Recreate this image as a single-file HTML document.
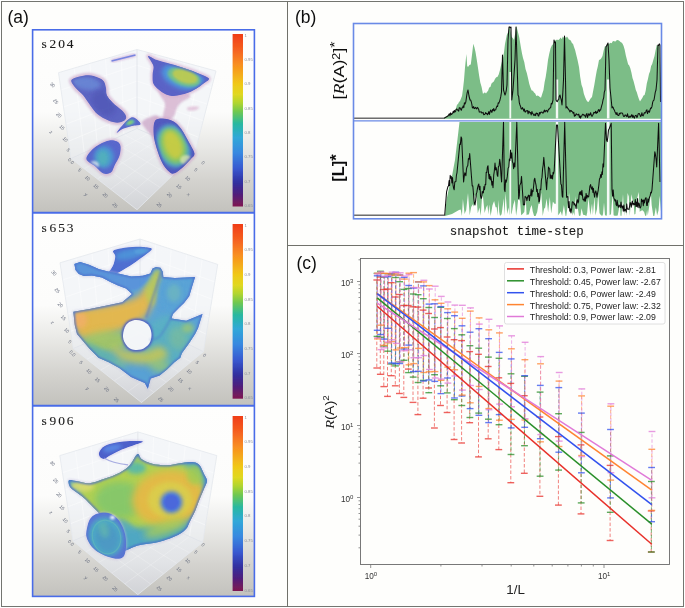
<!DOCTYPE html>
<html><head><meta charset="utf-8"><title>Figure</title>
<style>html,body{margin:0;padding:0;background:#fff;overflow:hidden;} svg{display:block;font-family:"Liberation Sans",sans-serif;}</style>
</head><body>
<svg width="685" height="608" viewBox="0 0 685 608">
<defs>
<filter id="gblur" x="0" y="0" width="100%" height="100%" filterUnits="userSpaceOnUse"><feGaussianBlur stdDeviation="0.35"/></filter>
<linearGradient id="cbar" x1="0" y1="0" x2="0" y2="1"><stop offset="0" stop-color="#f03c18"/><stop offset="0.09" stop-color="#f56020"/><stop offset="0.18" stop-color="#f89020"/><stop offset="0.29" stop-color="#f0c818"/><stop offset="0.35" stop-color="#e0d820"/><stop offset="0.4" stop-color="#b0d530"/><stop offset="0.45" stop-color="#70c850"/><stop offset="0.52" stop-color="#28b8a0"/><stop offset="0.6" stop-color="#30a8d8"/><stop offset="0.69" stop-color="#3888e0"/><stop offset="0.78" stop-color="#3858d0"/><stop offset="0.86" stop-color="#3030a0"/><stop offset="0.92" stop-color="#4a2080"/><stop offset="1.0" stop-color="#801850"/></linearGradient>
<filter id="soft" x="-10%" y="-10%" width="120%" height="120%"><feGaussianBlur stdDeviation="0.6"/></filter>
<filter id="blur2" x="-30%" y="-30%" width="160%" height="160%"><feGaussianBlur stdDeviation="2"/></filter>
<filter id="blur3" x="-50%" y="-50%" width="200%" height="200%"><feGaussianBlur stdDeviation="3.5"/></filter>
<filter id="blur1" x="-30%" y="-30%" width="160%" height="160%"><feGaussianBlur stdDeviation="1.1"/></filter>
<linearGradient id="bg0" gradientUnits="userSpaceOnUse" x1="0" y1="29" x2="0" y2="212"><stop offset="0" stop-color="#fefefd"/><stop offset="0.454" stop-color="#fcfcfb"/><stop offset="0.645" stop-color="#e8e8e5"/><stop offset="0.825" stop-color="#d4d3cf"/><stop offset="1" stop-color="#c3c2bd"/></linearGradient>
<linearGradient id="fl0" gradientUnits="userSpaceOnUse" x1="0" y1="128.5" x2="0" y2="209.7"><stop offset="0" stop-color="#eef1f6" stop-opacity="0.7"/><stop offset="0.6" stop-color="#e6e9ee" stop-opacity="0.75"/><stop offset="1" stop-color="#d4d6dc" stop-opacity="0.8"/></linearGradient>
<linearGradient id="bg1" gradientUnits="userSpaceOnUse" x1="0" y1="212" x2="0" y2="405"><stop offset="0" stop-color="#fefefd"/><stop offset="0.482" stop-color="#fcfcfb"/><stop offset="0.663" stop-color="#e8e8e5"/><stop offset="0.834" stop-color="#d4d3cf"/><stop offset="1" stop-color="#c3c2bd"/></linearGradient>
<linearGradient id="fl1" gradientUnits="userSpaceOnUse" x1="0" y1="320" x2="0" y2="402.5"><stop offset="0" stop-color="#eef1f6" stop-opacity="0.7"/><stop offset="0.6" stop-color="#e6e9ee" stop-opacity="0.75"/><stop offset="1" stop-color="#d4d6dc" stop-opacity="0.8"/></linearGradient>
<linearGradient id="bg2" gradientUnits="userSpaceOnUse" x1="0" y1="405" x2="0" y2="596"><stop offset="0" stop-color="#fefefd"/><stop offset="0.476" stop-color="#fcfcfb"/><stop offset="0.660" stop-color="#e8e8e5"/><stop offset="0.832" stop-color="#d4d3cf"/><stop offset="1" stop-color="#c3c2bd"/></linearGradient>
<linearGradient id="fl2" gradientUnits="userSpaceOnUse" x1="0" y1="513" x2="0" y2="594.6"><stop offset="0" stop-color="#eef1f6" stop-opacity="0.7"/><stop offset="0.6" stop-color="#e6e9ee" stop-opacity="0.75"/><stop offset="1" stop-color="#d4d6dc" stop-opacity="0.8"/></linearGradient>
</defs>
<g filter="url(#gblur)">
<rect x="0" y="0" width="685" height="608" fill="#ffffff"/>
<rect x="1.5" y="1.5" width="682" height="605" fill="#fefefc"/>
<rect x="32" y="29" width="223" height="183" fill="url(#bg0)"/>
<path d="M137.0,49.5 L58.5,72.7 L71.0,158.5 L137.0,128.5 Z" fill="#eef1f6" fill-opacity="0.6"/>
<path d="M137.0,49.5 L216.0,71.0 L194.6,154.0 L137.0,128.5 Z" fill="#eef1f6" fill-opacity="0.6"/>
<path d="M137.0,128.5 L71.0,158.5 L137.0,209.7 L194.6,154.0 Z" fill="url(#fl0)"/>
<line x1="74.2" y1="68.1" x2="84.2" y2="152.5" stroke="#ffffff" stroke-width="0.7" opacity="0.6"/>
<line x1="200.2" y1="66.7" x2="183.1" y2="148.9" stroke="#ffffff" stroke-width="0.7" opacity="0.6"/>
<line x1="61.0" y1="89.9" x2="137.0" y2="65.3" stroke="#ffffff" stroke-width="0.7" opacity="0.6"/>
<line x1="211.7" y1="87.6" x2="137.0" y2="65.3" stroke="#ffffff" stroke-width="0.7" opacity="0.6"/>
<line x1="89.9" y1="63.4" x2="97.4" y2="146.5" stroke="#ffffff" stroke-width="0.7" opacity="0.6"/>
<line x1="184.4" y1="62.4" x2="171.6" y2="143.8" stroke="#ffffff" stroke-width="0.7" opacity="0.6"/>
<line x1="63.5" y1="107.0" x2="137.0" y2="81.1" stroke="#ffffff" stroke-width="0.7" opacity="0.6"/>
<line x1="207.4" y1="104.2" x2="137.0" y2="81.1" stroke="#ffffff" stroke-width="0.7" opacity="0.6"/>
<line x1="105.6" y1="58.8" x2="110.6" y2="140.5" stroke="#ffffff" stroke-width="0.7" opacity="0.6"/>
<line x1="168.6" y1="58.1" x2="160.0" y2="138.7" stroke="#ffffff" stroke-width="0.7" opacity="0.6"/>
<line x1="66.0" y1="124.2" x2="137.0" y2="96.9" stroke="#ffffff" stroke-width="0.7" opacity="0.6"/>
<line x1="203.2" y1="120.8" x2="137.0" y2="96.9" stroke="#ffffff" stroke-width="0.7" opacity="0.6"/>
<line x1="121.3" y1="54.1" x2="123.8" y2="134.5" stroke="#ffffff" stroke-width="0.7" opacity="0.6"/>
<line x1="152.8" y1="53.8" x2="148.5" y2="133.6" stroke="#ffffff" stroke-width="0.7" opacity="0.6"/>
<line x1="68.5" y1="141.3" x2="137.0" y2="112.7" stroke="#ffffff" stroke-width="0.7" opacity="0.6"/>
<line x1="198.9" y1="137.4" x2="137.0" y2="112.7" stroke="#ffffff" stroke-width="0.7" opacity="0.6"/>
<line x1="84.2" y1="152.5" x2="148.5" y2="198.6" stroke="#ffffff" stroke-width="0.7" opacity="0.3"/>
<line x1="183.1" y1="148.9" x2="123.8" y2="199.5" stroke="#ffffff" stroke-width="0.7" opacity="0.3"/>
<line x1="97.4" y1="146.5" x2="160.0" y2="187.4" stroke="#ffffff" stroke-width="0.7" opacity="0.3"/>
<line x1="171.6" y1="143.8" x2="110.6" y2="189.2" stroke="#ffffff" stroke-width="0.7" opacity="0.3"/>
<line x1="110.6" y1="140.5" x2="171.6" y2="176.3" stroke="#ffffff" stroke-width="0.7" opacity="0.3"/>
<line x1="160.0" y1="138.7" x2="97.4" y2="179.0" stroke="#ffffff" stroke-width="0.7" opacity="0.3"/>
<line x1="123.8" y1="134.5" x2="183.1" y2="165.1" stroke="#ffffff" stroke-width="0.7" opacity="0.3"/>
<line x1="148.5" y1="133.6" x2="84.2" y2="168.7" stroke="#ffffff" stroke-width="0.7" opacity="0.3"/>
<line x1="137.0" y1="49.5" x2="137.0" y2="128.5" stroke="#dfe3ea" stroke-width="0.8"/>
<line x1="137.0" y1="128.5" x2="71.0" y2="158.5" stroke="#dfe3ea" stroke-width="0.8"/>
<line x1="137.0" y1="128.5" x2="194.6" y2="154.0" stroke="#dfe3ea" stroke-width="0.8"/>
<line x1="137.0" y1="49.5" x2="58.5" y2="72.7" stroke="#e4e8ee" stroke-width="0.8"/>
<line x1="137.0" y1="49.5" x2="216.0" y2="71.0" stroke="#e4e8ee" stroke-width="0.8"/>
<line x1="58.5" y1="72.7" x2="71.0" y2="158.5" stroke="#e4e8ee" stroke-width="0.8"/>
<line x1="216.0" y1="71.0" x2="194.6" y2="154.0" stroke="#e4e8ee" stroke-width="0.8"/>
<line x1="71.0" y1="158.5" x2="137.0" y2="209.7" stroke="#e4e8ee" stroke-width="0.8"/>
<line x1="194.6" y1="154.0" x2="137.0" y2="209.7" stroke="#e4e8ee" stroke-width="0.8"/>
<text x="52.5" y="86.6" text-anchor="middle" font-family="Liberation Sans" font-size="4.8" fill="#6a7080" transform="rotate(45 52.5 85.0)">30</text>
<text x="55.7" y="103.2" text-anchor="middle" font-family="Liberation Sans" font-size="4.8" fill="#6a7080" transform="rotate(45 55.7 101.6)">25</text>
<text x="58.9" y="116.8" text-anchor="middle" font-family="Liberation Sans" font-size="4.8" fill="#6a7080" transform="rotate(45 58.9 115.2)">20</text>
<text x="62.0" y="129.0" text-anchor="middle" font-family="Liberation Sans" font-size="4.8" fill="#6a7080" transform="rotate(45 62.0 127.4)">15</text>
<text x="65.2" y="141.1" text-anchor="middle" font-family="Liberation Sans" font-size="4.8" fill="#6a7080" transform="rotate(45 65.2 139.5)">10</text>
<text x="68.3" y="151.7" text-anchor="middle" font-family="Liberation Sans" font-size="4.8" fill="#6a7080" transform="rotate(45 68.3 150.1)">5</text>
<text x="51.0" y="133.5" text-anchor="middle" font-family="Liberation Sans" font-size="4.8" fill="#6a7080" transform="rotate(45 51.0 131.9)">z</text>
<text x="71.0" y="162.8" text-anchor="middle" font-family="Liberation Sans" font-size="4.8" fill="#6a7080" transform="rotate(45 71.0 161.2)">0.0</text>
<text x="79.6" y="171.6" text-anchor="middle" font-family="Liberation Sans" font-size="4.8" fill="#6a7080" transform="rotate(45 79.6 170.0)">5</text>
<text x="87.5" y="179.8" text-anchor="middle" font-family="Liberation Sans" font-size="4.8" fill="#6a7080" transform="rotate(45 87.5 178.2)">10</text>
<text x="96.0" y="188.0" text-anchor="middle" font-family="Liberation Sans" font-size="4.8" fill="#6a7080" transform="rotate(45 96.0 186.4)">15</text>
<text x="105.2" y="196.8" text-anchor="middle" font-family="Liberation Sans" font-size="4.8" fill="#6a7080" transform="rotate(45 105.2 195.2)">20</text>
<text x="115.0" y="206.9" text-anchor="middle" font-family="Liberation Sans" font-size="4.8" fill="#6a7080" transform="rotate(45 115.0 205.3)">25</text>
<text x="86.1" y="196.2" text-anchor="middle" font-family="Liberation Sans" font-size="4.8" fill="#6a7080" transform="rotate(45 86.1 194.6)">y</text>
<text x="203.0" y="164.5" text-anchor="middle" font-family="Liberation Sans" font-size="4.8" fill="#6a7080" transform="rotate(45 203.0 162.9)">0</text>
<text x="195.7" y="171.4" text-anchor="middle" font-family="Liberation Sans" font-size="4.8" fill="#6a7080" transform="rotate(45 195.7 169.8)">5</text>
<text x="187.7" y="180.0" text-anchor="middle" font-family="Liberation Sans" font-size="4.8" fill="#6a7080" transform="rotate(45 187.7 178.4)">10</text>
<text x="178.9" y="188.3" text-anchor="middle" font-family="Liberation Sans" font-size="4.8" fill="#6a7080" transform="rotate(45 178.9 186.7)">15</text>
<text x="169.4" y="196.7" text-anchor="middle" font-family="Liberation Sans" font-size="4.8" fill="#6a7080" transform="rotate(45 169.4 195.1)">20</text>
<text x="159.2" y="206.5" text-anchor="middle" font-family="Liberation Sans" font-size="4.8" fill="#6a7080" transform="rotate(45 159.2 204.9)">25</text>
<text x="188.4" y="196.1" text-anchor="middle" font-family="Liberation Sans" font-size="4.8" fill="#6a7080" transform="rotate(45 188.4 194.5)">x</text>
<rect x="32" y="212" width="223" height="193" fill="url(#bg1)"/>
<path d="M140.0,239.0 L60.0,262.8 L73.3,348.5 L140.0,320.0 Z" fill="#eef1f6" fill-opacity="0.6"/>
<path d="M140.0,239.0 L217.7,264.4 L203.4,351.7 L140.0,320.0 Z" fill="#eef1f6" fill-opacity="0.6"/>
<path d="M140.0,320.0 L73.3,348.5 L141.5,402.5 L203.4,351.7 Z" fill="url(#fl1)"/>
<line x1="76.0" y1="258.0" x2="86.6" y2="342.8" stroke="#ffffff" stroke-width="0.7" opacity="0.6"/>
<line x1="202.2" y1="259.3" x2="190.7" y2="345.4" stroke="#ffffff" stroke-width="0.7" opacity="0.6"/>
<line x1="62.7" y1="279.9" x2="140.0" y2="255.2" stroke="#ffffff" stroke-width="0.7" opacity="0.6"/>
<line x1="214.8" y1="281.9" x2="140.0" y2="255.2" stroke="#ffffff" stroke-width="0.7" opacity="0.6"/>
<line x1="92.0" y1="253.3" x2="100.0" y2="337.1" stroke="#ffffff" stroke-width="0.7" opacity="0.6"/>
<line x1="186.6" y1="254.2" x2="178.0" y2="339.0" stroke="#ffffff" stroke-width="0.7" opacity="0.6"/>
<line x1="65.3" y1="297.1" x2="140.0" y2="271.4" stroke="#ffffff" stroke-width="0.7" opacity="0.6"/>
<line x1="212.0" y1="299.3" x2="140.0" y2="271.4" stroke="#ffffff" stroke-width="0.7" opacity="0.6"/>
<line x1="108.0" y1="248.5" x2="113.3" y2="331.4" stroke="#ffffff" stroke-width="0.7" opacity="0.6"/>
<line x1="171.1" y1="249.2" x2="165.4" y2="332.7" stroke="#ffffff" stroke-width="0.7" opacity="0.6"/>
<line x1="68.0" y1="314.2" x2="140.0" y2="287.6" stroke="#ffffff" stroke-width="0.7" opacity="0.6"/>
<line x1="209.1" y1="316.8" x2="140.0" y2="287.6" stroke="#ffffff" stroke-width="0.7" opacity="0.6"/>
<line x1="124.0" y1="243.8" x2="126.7" y2="325.7" stroke="#ffffff" stroke-width="0.7" opacity="0.6"/>
<line x1="155.5" y1="244.1" x2="152.7" y2="326.3" stroke="#ffffff" stroke-width="0.7" opacity="0.6"/>
<line x1="70.6" y1="331.4" x2="140.0" y2="303.8" stroke="#ffffff" stroke-width="0.7" opacity="0.6"/>
<line x1="206.3" y1="334.2" x2="140.0" y2="303.8" stroke="#ffffff" stroke-width="0.7" opacity="0.6"/>
<line x1="86.6" y1="342.8" x2="153.9" y2="392.3" stroke="#ffffff" stroke-width="0.7" opacity="0.3"/>
<line x1="190.7" y1="345.4" x2="127.9" y2="391.7" stroke="#ffffff" stroke-width="0.7" opacity="0.3"/>
<line x1="100.0" y1="337.1" x2="166.3" y2="382.2" stroke="#ffffff" stroke-width="0.7" opacity="0.3"/>
<line x1="178.0" y1="339.0" x2="114.2" y2="380.9" stroke="#ffffff" stroke-width="0.7" opacity="0.3"/>
<line x1="113.3" y1="331.4" x2="178.6" y2="372.0" stroke="#ffffff" stroke-width="0.7" opacity="0.3"/>
<line x1="165.4" y1="332.7" x2="100.6" y2="370.1" stroke="#ffffff" stroke-width="0.7" opacity="0.3"/>
<line x1="126.7" y1="325.7" x2="191.0" y2="361.9" stroke="#ffffff" stroke-width="0.7" opacity="0.3"/>
<line x1="152.7" y1="326.3" x2="86.9" y2="359.3" stroke="#ffffff" stroke-width="0.7" opacity="0.3"/>
<line x1="140.0" y1="239.0" x2="140.0" y2="320.0" stroke="#dfe3ea" stroke-width="0.8"/>
<line x1="140.0" y1="320.0" x2="73.3" y2="348.5" stroke="#dfe3ea" stroke-width="0.8"/>
<line x1="140.0" y1="320.0" x2="203.4" y2="351.7" stroke="#dfe3ea" stroke-width="0.8"/>
<line x1="140.0" y1="239.0" x2="60.0" y2="262.8" stroke="#e4e8ee" stroke-width="0.8"/>
<line x1="140.0" y1="239.0" x2="217.7" y2="264.4" stroke="#e4e8ee" stroke-width="0.8"/>
<line x1="60.0" y1="262.8" x2="73.3" y2="348.5" stroke="#e4e8ee" stroke-width="0.8"/>
<line x1="217.7" y1="264.4" x2="203.4" y2="351.7" stroke="#e4e8ee" stroke-width="0.8"/>
<line x1="73.3" y1="348.5" x2="141.5" y2="402.5" stroke="#e4e8ee" stroke-width="0.8"/>
<line x1="203.4" y1="351.7" x2="141.5" y2="402.5" stroke="#e4e8ee" stroke-width="0.8"/>
<text x="54.0" y="274.7" text-anchor="middle" font-family="Liberation Sans" font-size="4.8" fill="#6a7080" transform="rotate(45 54.0 273.1)">30</text>
<text x="57.2" y="292.2" text-anchor="middle" font-family="Liberation Sans" font-size="4.8" fill="#6a7080" transform="rotate(45 57.2 290.6)">25</text>
<text x="60.4" y="306.5" text-anchor="middle" font-family="Liberation Sans" font-size="4.8" fill="#6a7080" transform="rotate(45 60.4 304.9)">20</text>
<text x="63.5" y="319.4" text-anchor="middle" font-family="Liberation Sans" font-size="4.8" fill="#6a7080" transform="rotate(45 63.5 317.8)">15</text>
<text x="66.7" y="332.1" text-anchor="middle" font-family="Liberation Sans" font-size="4.8" fill="#6a7080" transform="rotate(45 66.7 330.5)">10</text>
<text x="69.8" y="343.3" text-anchor="middle" font-family="Liberation Sans" font-size="4.8" fill="#6a7080" transform="rotate(45 69.8 341.7)">5</text>
<text x="52.5" y="324.1" text-anchor="middle" font-family="Liberation Sans" font-size="4.8" fill="#6a7080" transform="rotate(45 52.5 322.5)">z</text>
<text x="72.5" y="355.0" text-anchor="middle" font-family="Liberation Sans" font-size="4.8" fill="#6a7080" transform="rotate(45 72.5 353.4)">0.0</text>
<text x="81.1" y="364.3" text-anchor="middle" font-family="Liberation Sans" font-size="4.8" fill="#6a7080" transform="rotate(45 81.1 362.7)">5</text>
<text x="89.0" y="372.9" text-anchor="middle" font-family="Liberation Sans" font-size="4.8" fill="#6a7080" transform="rotate(45 89.0 371.3)">10</text>
<text x="97.5" y="381.6" text-anchor="middle" font-family="Liberation Sans" font-size="4.8" fill="#6a7080" transform="rotate(45 97.5 380.0)">15</text>
<text x="106.7" y="390.9" text-anchor="middle" font-family="Liberation Sans" font-size="4.8" fill="#6a7080" transform="rotate(45 106.7 389.3)">20</text>
<text x="116.5" y="401.5" text-anchor="middle" font-family="Liberation Sans" font-size="4.8" fill="#6a7080" transform="rotate(45 116.5 399.9)">25</text>
<text x="87.6" y="390.2" text-anchor="middle" font-family="Liberation Sans" font-size="4.8" fill="#6a7080" transform="rotate(45 87.6 388.6)">y</text>
<text x="204.5" y="356.9" text-anchor="middle" font-family="Liberation Sans" font-size="4.8" fill="#6a7080" transform="rotate(45 204.5 355.3)">0</text>
<text x="197.2" y="364.1" text-anchor="middle" font-family="Liberation Sans" font-size="4.8" fill="#6a7080" transform="rotate(45 197.2 362.5)">5</text>
<text x="189.2" y="373.1" text-anchor="middle" font-family="Liberation Sans" font-size="4.8" fill="#6a7080" transform="rotate(45 189.2 371.5)">10</text>
<text x="180.4" y="381.9" text-anchor="middle" font-family="Liberation Sans" font-size="4.8" fill="#6a7080" transform="rotate(45 180.4 380.3)">15</text>
<text x="170.9" y="390.8" text-anchor="middle" font-family="Liberation Sans" font-size="4.8" fill="#6a7080" transform="rotate(45 170.9 389.2)">20</text>
<text x="160.7" y="401.1" text-anchor="middle" font-family="Liberation Sans" font-size="4.8" fill="#6a7080" transform="rotate(45 160.7 399.5)">25</text>
<text x="189.9" y="390.1" text-anchor="middle" font-family="Liberation Sans" font-size="4.8" fill="#6a7080" transform="rotate(45 189.9 388.5)">x</text>
<rect x="32" y="405" width="223" height="191" fill="url(#bg2)"/>
<path d="M137.8,431.9 L59.8,455.6 L73.0,540.9 L137.8,513.0 Z" fill="#eef1f6" fill-opacity="0.6"/>
<path d="M137.8,431.9 L216.8,455.6 L202.6,542.4 L137.8,513.0 Z" fill="#eef1f6" fill-opacity="0.6"/>
<path d="M137.8,513.0 L73.0,540.9 L137.8,594.6 L202.6,542.4 Z" fill="url(#fl2)"/>
<line x1="75.4" y1="450.9" x2="86.0" y2="535.3" stroke="#ffffff" stroke-width="0.7" opacity="0.6"/>
<line x1="201.0" y1="450.9" x2="189.6" y2="536.5" stroke="#ffffff" stroke-width="0.7" opacity="0.6"/>
<line x1="62.4" y1="472.7" x2="137.8" y2="448.1" stroke="#ffffff" stroke-width="0.7" opacity="0.6"/>
<line x1="214.0" y1="473.0" x2="137.8" y2="448.1" stroke="#ffffff" stroke-width="0.7" opacity="0.6"/>
<line x1="91.0" y1="446.1" x2="98.9" y2="529.7" stroke="#ffffff" stroke-width="0.7" opacity="0.6"/>
<line x1="185.2" y1="446.1" x2="176.7" y2="530.6" stroke="#ffffff" stroke-width="0.7" opacity="0.6"/>
<line x1="65.1" y1="489.7" x2="137.8" y2="464.3" stroke="#ffffff" stroke-width="0.7" opacity="0.6"/>
<line x1="211.1" y1="490.3" x2="137.8" y2="464.3" stroke="#ffffff" stroke-width="0.7" opacity="0.6"/>
<line x1="106.6" y1="441.4" x2="111.9" y2="524.2" stroke="#ffffff" stroke-width="0.7" opacity="0.6"/>
<line x1="169.4" y1="441.4" x2="163.7" y2="524.8" stroke="#ffffff" stroke-width="0.7" opacity="0.6"/>
<line x1="67.7" y1="506.8" x2="137.8" y2="480.6" stroke="#ffffff" stroke-width="0.7" opacity="0.6"/>
<line x1="208.3" y1="507.7" x2="137.8" y2="480.6" stroke="#ffffff" stroke-width="0.7" opacity="0.6"/>
<line x1="122.2" y1="436.6" x2="124.8" y2="518.6" stroke="#ffffff" stroke-width="0.7" opacity="0.6"/>
<line x1="153.6" y1="436.6" x2="150.8" y2="518.9" stroke="#ffffff" stroke-width="0.7" opacity="0.6"/>
<line x1="70.4" y1="523.8" x2="137.8" y2="496.8" stroke="#ffffff" stroke-width="0.7" opacity="0.6"/>
<line x1="205.4" y1="525.0" x2="137.8" y2="496.8" stroke="#ffffff" stroke-width="0.7" opacity="0.6"/>
<line x1="86.0" y1="535.3" x2="150.8" y2="584.2" stroke="#ffffff" stroke-width="0.7" opacity="0.3"/>
<line x1="189.6" y1="536.5" x2="124.8" y2="583.9" stroke="#ffffff" stroke-width="0.7" opacity="0.3"/>
<line x1="98.9" y1="529.7" x2="163.7" y2="573.7" stroke="#ffffff" stroke-width="0.7" opacity="0.3"/>
<line x1="176.7" y1="530.6" x2="111.9" y2="573.1" stroke="#ffffff" stroke-width="0.7" opacity="0.3"/>
<line x1="111.9" y1="524.2" x2="176.7" y2="563.3" stroke="#ffffff" stroke-width="0.7" opacity="0.3"/>
<line x1="163.7" y1="524.8" x2="98.9" y2="562.4" stroke="#ffffff" stroke-width="0.7" opacity="0.3"/>
<line x1="124.8" y1="518.6" x2="189.6" y2="552.8" stroke="#ffffff" stroke-width="0.7" opacity="0.3"/>
<line x1="150.8" y1="518.9" x2="86.0" y2="551.6" stroke="#ffffff" stroke-width="0.7" opacity="0.3"/>
<line x1="137.8" y1="431.9" x2="137.8" y2="513.0" stroke="#dfe3ea" stroke-width="0.8"/>
<line x1="137.8" y1="513.0" x2="73.0" y2="540.9" stroke="#dfe3ea" stroke-width="0.8"/>
<line x1="137.8" y1="513.0" x2="202.6" y2="542.4" stroke="#dfe3ea" stroke-width="0.8"/>
<line x1="137.8" y1="431.9" x2="59.8" y2="455.6" stroke="#e4e8ee" stroke-width="0.8"/>
<line x1="137.8" y1="431.9" x2="216.8" y2="455.6" stroke="#e4e8ee" stroke-width="0.8"/>
<line x1="59.8" y1="455.6" x2="73.0" y2="540.9" stroke="#e4e8ee" stroke-width="0.8"/>
<line x1="216.8" y1="455.6" x2="202.6" y2="542.4" stroke="#e4e8ee" stroke-width="0.8"/>
<line x1="73.0" y1="540.9" x2="137.8" y2="594.6" stroke="#e4e8ee" stroke-width="0.8"/>
<line x1="202.6" y1="542.4" x2="137.8" y2="594.6" stroke="#e4e8ee" stroke-width="0.8"/>
<text x="52.5" y="465.1" text-anchor="middle" font-family="Liberation Sans" font-size="4.8" fill="#6a7080" transform="rotate(45 52.5 463.5)">30</text>
<text x="55.7" y="482.4" text-anchor="middle" font-family="Liberation Sans" font-size="4.8" fill="#6a7080" transform="rotate(45 55.7 480.8)">25</text>
<text x="58.9" y="496.6" text-anchor="middle" font-family="Liberation Sans" font-size="4.8" fill="#6a7080" transform="rotate(45 58.9 495.0)">20</text>
<text x="62.0" y="509.3" text-anchor="middle" font-family="Liberation Sans" font-size="4.8" fill="#6a7080" transform="rotate(45 62.0 507.7)">15</text>
<text x="65.2" y="521.9" text-anchor="middle" font-family="Liberation Sans" font-size="4.8" fill="#6a7080" transform="rotate(45 65.2 520.3)">10</text>
<text x="68.3" y="533.0" text-anchor="middle" font-family="Liberation Sans" font-size="4.8" fill="#6a7080" transform="rotate(45 68.3 531.4)">5</text>
<text x="51.0" y="514.0" text-anchor="middle" font-family="Liberation Sans" font-size="4.8" fill="#6a7080" transform="rotate(45 51.0 512.4)">z</text>
<text x="71.0" y="544.6" text-anchor="middle" font-family="Liberation Sans" font-size="4.8" fill="#6a7080" transform="rotate(45 71.0 543.0)">0.0</text>
<text x="79.6" y="553.8" text-anchor="middle" font-family="Liberation Sans" font-size="4.8" fill="#6a7080" transform="rotate(45 79.6 552.2)">5</text>
<text x="87.5" y="562.3" text-anchor="middle" font-family="Liberation Sans" font-size="4.8" fill="#6a7080" transform="rotate(45 87.5 560.7)">10</text>
<text x="96.0" y="570.9" text-anchor="middle" font-family="Liberation Sans" font-size="4.8" fill="#6a7080" transform="rotate(45 96.0 569.3)">15</text>
<text x="105.2" y="580.1" text-anchor="middle" font-family="Liberation Sans" font-size="4.8" fill="#6a7080" transform="rotate(45 105.2 578.5)">20</text>
<text x="115.0" y="590.6" text-anchor="middle" font-family="Liberation Sans" font-size="4.8" fill="#6a7080" transform="rotate(45 115.0 589.0)">25</text>
<text x="86.1" y="579.4" text-anchor="middle" font-family="Liberation Sans" font-size="4.8" fill="#6a7080" transform="rotate(45 86.1 577.8)">y</text>
<text x="203.0" y="546.4" text-anchor="middle" font-family="Liberation Sans" font-size="4.8" fill="#6a7080" transform="rotate(45 203.0 544.8)">0</text>
<text x="195.7" y="553.6" text-anchor="middle" font-family="Liberation Sans" font-size="4.8" fill="#6a7080" transform="rotate(45 195.7 552.0)">5</text>
<text x="187.7" y="562.5" text-anchor="middle" font-family="Liberation Sans" font-size="4.8" fill="#6a7080" transform="rotate(45 187.7 560.9)">10</text>
<text x="178.9" y="571.2" text-anchor="middle" font-family="Liberation Sans" font-size="4.8" fill="#6a7080" transform="rotate(45 178.9 569.6)">15</text>
<text x="169.4" y="580.0" text-anchor="middle" font-family="Liberation Sans" font-size="4.8" fill="#6a7080" transform="rotate(45 169.4 578.4)">20</text>
<text x="159.2" y="590.2" text-anchor="middle" font-family="Liberation Sans" font-size="4.8" fill="#6a7080" transform="rotate(45 159.2 588.6)">25</text>
<text x="188.4" y="579.3" text-anchor="middle" font-family="Liberation Sans" font-size="4.8" fill="#6a7080" transform="rotate(45 188.4 577.7)">x</text>
<g opacity="0.9">
<clipPath id="clip1"><path d="M71.3,80.5 C71.8,78.7 75.8,77.7 78.7,76.8 C81.7,75.9 85.8,75.2 89.0,75.3 C92.2,75.4 95.4,76.6 97.9,77.6 C100.4,78.6 102.5,79.6 103.8,81.3 C105.1,83.0 105.5,85.7 106.0,88.0 C106.5,90.3 105.7,92.8 106.8,95.3 C107.9,97.8 110.2,100.2 112.7,102.7 C115.2,105.2 119.4,107.9 121.6,110.1 C123.8,112.3 125.5,114.3 126.0,116.0 C126.5,117.7 126.1,119.4 124.6,120.5 C123.1,121.6 119.9,122.7 117.2,122.7 C114.5,122.7 111.5,121.8 108.3,120.5 C105.1,119.2 100.9,117.1 97.9,114.6 C94.9,112.1 93.0,108.9 90.5,105.7 C88.0,102.5 85.6,98.3 83.1,95.3 C80.6,92.3 77.7,90.4 75.7,87.9 C73.7,85.4 70.8,82.3 71.3,80.5 Z"/></clipPath>
<path d="M71.3,80.5 C71.8,78.7 75.8,77.7 78.7,76.8 C81.7,75.9 85.8,75.2 89.0,75.3 C92.2,75.4 95.4,76.6 97.9,77.6 C100.4,78.6 102.5,79.6 103.8,81.3 C105.1,83.0 105.5,85.7 106.0,88.0 C106.5,90.3 105.7,92.8 106.8,95.3 C107.9,97.8 110.2,100.2 112.7,102.7 C115.2,105.2 119.4,107.9 121.6,110.1 C123.8,112.3 125.5,114.3 126.0,116.0 C126.5,117.7 126.1,119.4 124.6,120.5 C123.1,121.6 119.9,122.7 117.2,122.7 C114.5,122.7 111.5,121.8 108.3,120.5 C105.1,119.2 100.9,117.1 97.9,114.6 C94.9,112.1 93.0,108.9 90.5,105.7 C88.0,102.5 85.6,98.3 83.1,95.3 C80.6,92.3 77.7,90.4 75.7,87.9 C73.7,85.4 70.8,82.3 71.3,80.5 Z" fill="none" stroke="#cca4c8" stroke-width="5" opacity="0.7" filter="url(#blur1)"/>
<g filter="url(#soft)">
<g clip-path="url(#clip1)">
<path d="M71.3,80.5 C71.8,78.7 75.8,77.7 78.7,76.8 C81.7,75.9 85.8,75.2 89.0,75.3 C92.2,75.4 95.4,76.6 97.9,77.6 C100.4,78.6 102.5,79.6 103.8,81.3 C105.1,83.0 105.5,85.7 106.0,88.0 C106.5,90.3 105.7,92.8 106.8,95.3 C107.9,97.8 110.2,100.2 112.7,102.7 C115.2,105.2 119.4,107.9 121.6,110.1 C123.8,112.3 125.5,114.3 126.0,116.0 C126.5,117.7 126.1,119.4 124.6,120.5 C123.1,121.6 119.9,122.7 117.2,122.7 C114.5,122.7 111.5,121.8 108.3,120.5 C105.1,119.2 100.9,117.1 97.9,114.6 C94.9,112.1 93.0,108.9 90.5,105.7 C88.0,102.5 85.6,98.3 83.1,95.3 C80.6,92.3 77.7,90.4 75.7,87.9 C73.7,85.4 70.8,82.3 71.3,80.5 Z" fill="#4c54bc"/>
<ellipse cx="86" cy="83" rx="15" ry="7" fill="#5a7ad0" opacity="0.9" transform="rotate(10 86 83)" filter="url(#blur2)"/>
<ellipse cx="104" cy="103" rx="10" ry="14" fill="#4048b0" opacity="0.9" transform="rotate(-40 104 103)" filter="url(#blur2)"/>
<path d="M71.3,80.5 C71.8,78.7 75.8,77.7 78.7,76.8 C81.7,75.9 85.8,75.2 89.0,75.3 C92.2,75.4 95.4,76.6 97.9,77.6 C100.4,78.6 102.5,79.6 103.8,81.3 C105.1,83.0 105.5,85.7 106.0,88.0 C106.5,90.3 105.7,92.8 106.8,95.3 C107.9,97.8 110.2,100.2 112.7,102.7 C115.2,105.2 119.4,107.9 121.6,110.1 C123.8,112.3 125.5,114.3 126.0,116.0 C126.5,117.7 126.1,119.4 124.6,120.5 C123.1,121.6 119.9,122.7 117.2,122.7 C114.5,122.7 111.5,121.8 108.3,120.5 C105.1,119.2 100.9,117.1 97.9,114.6 C94.9,112.1 93.0,108.9 90.5,105.7 C88.0,102.5 85.6,98.3 83.1,95.3 C80.6,92.3 77.7,90.4 75.7,87.9 C73.7,85.4 70.8,82.3 71.3,80.5 Z" fill="none" stroke="#4c54bc" stroke-width="2.2" filter="url(#blur1)"/>
</g>
</g>
<line x1="111.5" y1="61" x2="135.5" y2="55" stroke="#d0b0d8" stroke-width="3.2" filter="url(#blur1)"/>
<line x1="111.5" y1="61" x2="135.5" y2="55" stroke="#6a7ade" stroke-width="1.8"/>
<path d="M158.0,86.0 C159.7,85.2 165.3,89.0 170.0,90.0 C174.7,91.0 182.7,90.8 186.0,92.0 C189.3,93.2 190.7,95.3 190.0,97.0 C189.3,98.7 184.2,100.2 182.0,102.0 C179.8,103.8 178.3,105.7 177.0,108.0 C175.7,110.3 175.3,113.8 174.0,116.0 C172.7,118.2 170.5,119.7 169.0,121.0 C167.5,122.3 166.0,124.8 165.0,124.0 C164.0,123.2 163.0,119.3 163.0,116.0 C163.0,112.7 165.5,107.5 165.0,104.0 C164.5,100.5 161.2,98.0 160.0,95.0 C158.8,92.0 156.3,86.8 158.0,86.0 Z" fill="#cfa4c6" opacity="0.75" filter="url(#blur1)"/>
<path d="M187.0,108.0 C187.7,107.3 191.0,106.7 193.0,106.5 C195.0,106.3 198.5,106.4 199.0,107.0 C199.5,107.6 197.7,109.4 196.0,110.0 C194.3,110.6 190.5,110.8 189.0,110.5 C187.5,110.2 186.3,108.7 187.0,108.0 Z" fill="#dcb4d0" opacity="0.8" filter="url(#blur1)"/>
<clipPath id="clip2"><path d="M148.1,56.1 C148.6,55.1 153.2,58.7 156.3,59.8 C159.4,60.9 162.4,61.6 166.6,62.8 C170.8,64.0 176.5,65.6 181.4,67.2 C186.3,68.8 191.6,70.6 196.2,72.4 C200.8,74.2 207.6,76.5 208.8,78.3 C210.0,80.1 205.7,81.8 203.6,83.5 C201.5,85.2 198.7,87.2 196.2,88.7 C193.7,90.2 191.5,91.4 188.8,92.4 C186.1,93.5 182.8,94.4 180.0,95.0 C177.2,95.6 174.5,96.2 172.0,96.0 C169.5,95.8 167.2,95.1 165.0,94.0 C162.8,92.9 160.4,91.2 158.5,89.5 C156.6,87.8 154.3,86.0 153.3,83.5 C152.3,81.0 152.6,77.6 152.6,74.6 C152.6,71.6 154.1,68.8 153.3,65.7 C152.6,62.6 147.6,57.1 148.1,56.1 Z"/></clipPath>
<path d="M148.1,56.1 C148.6,55.1 153.2,58.7 156.3,59.8 C159.4,60.9 162.4,61.6 166.6,62.8 C170.8,64.0 176.5,65.6 181.4,67.2 C186.3,68.8 191.6,70.6 196.2,72.4 C200.8,74.2 207.6,76.5 208.8,78.3 C210.0,80.1 205.7,81.8 203.6,83.5 C201.5,85.2 198.7,87.2 196.2,88.7 C193.7,90.2 191.5,91.4 188.8,92.4 C186.1,93.5 182.8,94.4 180.0,95.0 C177.2,95.6 174.5,96.2 172.0,96.0 C169.5,95.8 167.2,95.1 165.0,94.0 C162.8,92.9 160.4,91.2 158.5,89.5 C156.6,87.8 154.3,86.0 153.3,83.5 C152.3,81.0 152.6,77.6 152.6,74.6 C152.6,71.6 154.1,68.8 153.3,65.7 C152.6,62.6 147.6,57.1 148.1,56.1 Z" fill="none" stroke="#d2a8cc" stroke-width="4" opacity="0.7" filter="url(#blur1)"/>
<g filter="url(#soft)">
<g clip-path="url(#clip2)">
<path d="M148.1,56.1 C148.6,55.1 153.2,58.7 156.3,59.8 C159.4,60.9 162.4,61.6 166.6,62.8 C170.8,64.0 176.5,65.6 181.4,67.2 C186.3,68.8 191.6,70.6 196.2,72.4 C200.8,74.2 207.6,76.5 208.8,78.3 C210.0,80.1 205.7,81.8 203.6,83.5 C201.5,85.2 198.7,87.2 196.2,88.7 C193.7,90.2 191.5,91.4 188.8,92.4 C186.1,93.5 182.8,94.4 180.0,95.0 C177.2,95.6 174.5,96.2 172.0,96.0 C169.5,95.8 167.2,95.1 165.0,94.0 C162.8,92.9 160.4,91.2 158.5,89.5 C156.6,87.8 154.3,86.0 153.3,83.5 C152.3,81.0 152.6,77.6 152.6,74.6 C152.6,71.6 154.1,68.8 153.3,65.7 C152.6,62.6 147.6,57.1 148.1,56.1 Z" fill="#4a52c0"/>
<ellipse cx="183" cy="77" rx="22" ry="12" fill="#3a8ad8" opacity="1" transform="rotate(18 183 77)" filter="url(#blur2)"/>
<ellipse cx="184" cy="77" rx="17" ry="9" fill="#60b888" opacity="1" transform="rotate(18 184 77)" filter="url(#blur1)"/>
<ellipse cx="185" cy="76.5" rx="13" ry="6.5" fill="#b0c444" opacity="1" transform="rotate(18 185 76.5)" filter="url(#blur1)"/>
<path d="M148.1,56.1 C148.6,55.1 153.2,58.7 156.3,59.8 C159.4,60.9 162.4,61.6 166.6,62.8 C170.8,64.0 176.5,65.6 181.4,67.2 C186.3,68.8 191.6,70.6 196.2,72.4 C200.8,74.2 207.6,76.5 208.8,78.3 C210.0,80.1 205.7,81.8 203.6,83.5 C201.5,85.2 198.7,87.2 196.2,88.7 C193.7,90.2 191.5,91.4 188.8,92.4 C186.1,93.5 182.8,94.4 180.0,95.0 C177.2,95.6 174.5,96.2 172.0,96.0 C169.5,95.8 167.2,95.1 165.0,94.0 C162.8,92.9 160.4,91.2 158.5,89.5 C156.6,87.8 154.3,86.0 153.3,83.5 C152.3,81.0 152.6,77.6 152.6,74.6 C152.6,71.6 154.1,68.8 153.3,65.7 C152.6,62.6 147.6,57.1 148.1,56.1 Z" fill="none" stroke="#4a52c0" stroke-width="2.2" filter="url(#blur1)"/>
</g>
</g>
<path d="M142.0,122.0 C142.8,120.2 147.3,118.0 150.0,117.0 C152.7,116.0 156.3,114.2 158.0,116.0 C159.7,117.8 160.2,124.0 160.0,128.0 C159.8,132.0 158.7,139.0 157.0,140.0 C155.3,141.0 152.0,136.0 150.0,134.0 C148.0,132.0 146.3,130.0 145.0,128.0 C143.7,126.0 141.2,123.8 142.0,122.0 Z" fill="#c9a0c4" opacity="0.8" filter="url(#blur1)"/>
<clipPath id="clip3"><path d="M116.7,132.8 C117.0,131.9 121.9,125.8 124.3,123.3 C126.7,120.8 129.1,118.4 131.0,117.6 C132.9,116.8 134.1,117.4 135.7,118.5 C137.3,119.6 141.1,123.0 140.5,124.2 C139.9,125.5 135.0,125.2 132.0,126.0 C129.0,126.8 125.0,127.9 122.4,129.0 C119.9,130.1 116.4,133.8 116.7,132.8 Z"/></clipPath>
<path d="M116.7,132.8 C117.0,131.9 121.9,125.8 124.3,123.3 C126.7,120.8 129.1,118.4 131.0,117.6 C132.9,116.8 134.1,117.4 135.7,118.5 C137.3,119.6 141.1,123.0 140.5,124.2 C139.9,125.5 135.0,125.2 132.0,126.0 C129.0,126.8 125.0,127.9 122.4,129.0 C119.9,130.1 116.4,133.8 116.7,132.8 Z" fill="none" stroke="#d8b8d8" stroke-width="2" opacity="0.7" filter="url(#blur1)"/>
<g clip-path="url(#clip3)">
<path d="M116.7,132.8 C117.0,131.9 121.9,125.8 124.3,123.3 C126.7,120.8 129.1,118.4 131.0,117.6 C132.9,116.8 134.1,117.4 135.7,118.5 C137.3,119.6 141.1,123.0 140.5,124.2 C139.9,125.5 135.0,125.2 132.0,126.0 C129.0,126.8 125.0,127.9 122.4,129.0 C119.9,130.1 116.4,133.8 116.7,132.8 Z" fill="#4a5ac8"/>
<ellipse cx="130" cy="122.5" rx="5" ry="3" fill="#50b8a0" opacity="1" transform="rotate(-20 130 122.5)" filter="url(#blur1)"/>
<ellipse cx="130" cy="122.5" rx="2.5" ry="1.5" fill="#90cc50" opacity="1" transform="rotate(-20 130 122.5)" filter="url(#blur1)"/>
<path d="M116.7,132.8 C117.0,131.9 121.9,125.8 124.3,123.3 C126.7,120.8 129.1,118.4 131.0,117.6 C132.9,116.8 134.1,117.4 135.7,118.5 C137.3,119.6 141.1,123.0 140.5,124.2 C139.9,125.5 135.0,125.2 132.0,126.0 C129.0,126.8 125.0,127.9 122.4,129.0 C119.9,130.1 116.4,133.8 116.7,132.8 Z" fill="none" stroke="#4a5ac8" stroke-width="2.2" filter="url(#blur1)"/>
</g>
<clipPath id="clip4"><path d="M86.4,159.3 C85.8,156.5 89.8,152.3 92.0,149.8 C94.2,147.3 96.8,145.8 99.7,144.2 C102.6,142.6 106.4,140.9 109.2,140.4 C112.0,139.9 114.8,140.4 116.7,141.3 C118.6,142.2 120.0,143.6 120.5,146.0 C121.0,148.4 120.5,152.3 119.6,155.5 C118.6,158.7 116.2,162.2 114.8,165.0 C113.4,167.8 112.9,171.2 111.0,172.6 C109.1,174.0 106.0,174.5 103.5,173.6 C101.0,172.7 98.8,169.3 95.9,166.9 C93.1,164.5 87.1,162.2 86.4,159.3 Z"/></clipPath>
<path d="M86.4,159.3 C85.8,156.5 89.8,152.3 92.0,149.8 C94.2,147.3 96.8,145.8 99.7,144.2 C102.6,142.6 106.4,140.9 109.2,140.4 C112.0,139.9 114.8,140.4 116.7,141.3 C118.6,142.2 120.0,143.6 120.5,146.0 C121.0,148.4 120.5,152.3 119.6,155.5 C118.6,158.7 116.2,162.2 114.8,165.0 C113.4,167.8 112.9,171.2 111.0,172.6 C109.1,174.0 106.0,174.5 103.5,173.6 C101.0,172.7 98.8,169.3 95.9,166.9 C93.1,164.5 87.1,162.2 86.4,159.3 Z" fill="none" stroke="#cfa8cc" stroke-width="4" opacity="0.7" filter="url(#blur1)"/>
<g filter="url(#soft)">
<g clip-path="url(#clip4)">
<path d="M86.4,159.3 C85.8,156.5 89.8,152.3 92.0,149.8 C94.2,147.3 96.8,145.8 99.7,144.2 C102.6,142.6 106.4,140.9 109.2,140.4 C112.0,139.9 114.8,140.4 116.7,141.3 C118.6,142.2 120.0,143.6 120.5,146.0 C121.0,148.4 120.5,152.3 119.6,155.5 C118.6,158.7 116.2,162.2 114.8,165.0 C113.4,167.8 112.9,171.2 111.0,172.6 C109.1,174.0 106.0,174.5 103.5,173.6 C101.0,172.7 98.8,169.3 95.9,166.9 C93.1,164.5 87.1,162.2 86.4,159.3 Z" fill="#4a58c8"/>
<ellipse cx="104" cy="157" rx="10" ry="11" fill="#3a8ad0" opacity="1" transform="rotate(0 104 157)" filter="url(#blur2)"/>
<ellipse cx="103" cy="158" rx="6" ry="8" fill="#40a8b8" opacity="1" transform="rotate(0 103 158)" filter="url(#blur2)"/>
<ellipse cx="94" cy="165" rx="5" ry="4" fill="#c8e0e8" opacity="0.9" transform="rotate(0 94 165)" filter="url(#blur1)"/>
<path d="M86.4,159.3 C85.8,156.5 89.8,152.3 92.0,149.8 C94.2,147.3 96.8,145.8 99.7,144.2 C102.6,142.6 106.4,140.9 109.2,140.4 C112.0,139.9 114.8,140.4 116.7,141.3 C118.6,142.2 120.0,143.6 120.5,146.0 C121.0,148.4 120.5,152.3 119.6,155.5 C118.6,158.7 116.2,162.2 114.8,165.0 C113.4,167.8 112.9,171.2 111.0,172.6 C109.1,174.0 106.0,174.5 103.5,173.6 C101.0,172.7 98.8,169.3 95.9,166.9 C93.1,164.5 87.1,162.2 86.4,159.3 Z" fill="none" stroke="#4a58c8" stroke-width="2.2" filter="url(#blur1)"/>
</g>
</g>
<clipPath id="clip5"><path d="M154.7,121.4 C156.1,118.7 159.1,118.5 162.3,118.5 C165.5,118.5 170.5,119.7 173.7,121.4 C176.9,123.2 178.8,125.5 181.3,129.0 C183.8,132.5 186.7,138.2 188.9,142.3 C191.1,146.4 194.2,150.8 194.5,153.6 C194.8,156.4 192.6,157.1 190.7,159.3 C188.8,161.5 186.0,164.5 183.2,166.9 C180.4,169.3 176.2,173.0 173.7,173.6 C171.2,174.2 169.9,172.4 168.0,170.7 C166.1,168.9 164.2,166.9 162.3,163.1 C160.4,159.3 158.0,152.7 156.6,148.0 C155.2,143.3 154.0,139.1 153.7,134.7 C153.4,130.3 153.3,124.1 154.7,121.4 Z"/></clipPath>
<path d="M154.7,121.4 C156.1,118.7 159.1,118.5 162.3,118.5 C165.5,118.5 170.5,119.7 173.7,121.4 C176.9,123.2 178.8,125.5 181.3,129.0 C183.8,132.5 186.7,138.2 188.9,142.3 C191.1,146.4 194.2,150.8 194.5,153.6 C194.8,156.4 192.6,157.1 190.7,159.3 C188.8,161.5 186.0,164.5 183.2,166.9 C180.4,169.3 176.2,173.0 173.7,173.6 C171.2,174.2 169.9,172.4 168.0,170.7 C166.1,168.9 164.2,166.9 162.3,163.1 C160.4,159.3 158.0,152.7 156.6,148.0 C155.2,143.3 154.0,139.1 153.7,134.7 C153.4,130.3 153.3,124.1 154.7,121.4 Z" fill="none" stroke="#caa0c8" stroke-width="4" opacity="0.7" filter="url(#blur1)"/>
<g filter="url(#soft)">
<g clip-path="url(#clip5)">
<path d="M154.7,121.4 C156.1,118.7 159.1,118.5 162.3,118.5 C165.5,118.5 170.5,119.7 173.7,121.4 C176.9,123.2 178.8,125.5 181.3,129.0 C183.8,132.5 186.7,138.2 188.9,142.3 C191.1,146.4 194.2,150.8 194.5,153.6 C194.8,156.4 192.6,157.1 190.7,159.3 C188.8,161.5 186.0,164.5 183.2,166.9 C180.4,169.3 176.2,173.0 173.7,173.6 C171.2,174.2 169.9,172.4 168.0,170.7 C166.1,168.9 164.2,166.9 162.3,163.1 C160.4,159.3 158.0,152.7 156.6,148.0 C155.2,143.3 154.0,139.1 153.7,134.7 C153.4,130.3 153.3,124.1 154.7,121.4 Z" fill="#4048b8"/>
<ellipse cx="173" cy="146" rx="17" ry="22" fill="#3a9ad0" opacity="1" transform="rotate(-20 173 146)" filter="url(#blur2)"/>
<ellipse cx="173" cy="146" rx="13" ry="19" fill="#70c060" opacity="1" transform="rotate(-20 173 146)" filter="url(#blur2)"/>
<ellipse cx="173" cy="145" rx="9" ry="15" fill="#c0c830" opacity="1" transform="rotate(-20 173 145)" filter="url(#blur2)"/>
<ellipse cx="186" cy="160" rx="6" ry="5" fill="#e8e8a8" opacity="0.7" transform="rotate(0 186 160)" filter="url(#blur1)"/>
<path d="M154.7,121.4 C156.1,118.7 159.1,118.5 162.3,118.5 C165.5,118.5 170.5,119.7 173.7,121.4 C176.9,123.2 178.8,125.5 181.3,129.0 C183.8,132.5 186.7,138.2 188.9,142.3 C191.1,146.4 194.2,150.8 194.5,153.6 C194.8,156.4 192.6,157.1 190.7,159.3 C188.8,161.5 186.0,164.5 183.2,166.9 C180.4,169.3 176.2,173.0 173.7,173.6 C171.2,174.2 169.9,172.4 168.0,170.7 C166.1,168.9 164.2,166.9 162.3,163.1 C160.4,159.3 158.0,152.7 156.6,148.0 C155.2,143.3 154.0,139.1 153.7,134.7 C153.4,130.3 153.3,124.1 154.7,121.4 Z" fill="none" stroke="#4048b8" stroke-width="3" filter="url(#blur1)"/>
</g>
</g>
<clipPath id="clip6"><path d="M113.1,251.0 C113.9,249.8 117.5,249.2 120.0,248.6 C122.5,248.0 125.7,247.6 128.4,247.3 C131.1,247.0 133.6,246.9 136.0,246.8 C138.4,246.8 140.4,246.7 143.0,247.0 C145.6,247.3 151.3,247.5 151.8,248.8 C152.3,250.1 148.6,252.4 145.9,254.6 C143.2,256.8 139.1,259.6 135.7,261.9 C132.3,264.2 128.8,266.6 125.5,268.5 C122.2,270.4 118.9,272.7 116.0,273.5 C113.1,274.3 108.8,274.2 108.0,273.5 C107.2,272.8 110.0,270.7 111.0,269.0 C112.0,267.3 113.1,265.6 113.8,263.4 C114.5,261.2 115.4,258.1 115.3,256.0 C115.2,253.9 112.3,252.2 113.1,251.0 Z"/></clipPath>
<path d="M113.1,251.0 C113.9,249.8 117.5,249.2 120.0,248.6 C122.5,248.0 125.7,247.6 128.4,247.3 C131.1,247.0 133.6,246.9 136.0,246.8 C138.4,246.8 140.4,246.7 143.0,247.0 C145.6,247.3 151.3,247.5 151.8,248.8 C152.3,250.1 148.6,252.4 145.9,254.6 C143.2,256.8 139.1,259.6 135.7,261.9 C132.3,264.2 128.8,266.6 125.5,268.5 C122.2,270.4 118.9,272.7 116.0,273.5 C113.1,274.3 108.8,274.2 108.0,273.5 C107.2,272.8 110.0,270.7 111.0,269.0 C112.0,267.3 113.1,265.6 113.8,263.4 C114.5,261.2 115.4,258.1 115.3,256.0 C115.2,253.9 112.3,252.2 113.1,251.0 Z" fill="none" stroke="#c0b8e6" stroke-width="1.4" opacity="0.7" filter="url(#blur1)"/>
<g clip-path="url(#clip6)">
<path d="M113.1,251.0 C113.9,249.8 117.5,249.2 120.0,248.6 C122.5,248.0 125.7,247.6 128.4,247.3 C131.1,247.0 133.6,246.9 136.0,246.8 C138.4,246.8 140.4,246.7 143.0,247.0 C145.6,247.3 151.3,247.5 151.8,248.8 C152.3,250.1 148.6,252.4 145.9,254.6 C143.2,256.8 139.1,259.6 135.7,261.9 C132.3,264.2 128.8,266.6 125.5,268.5 C122.2,270.4 118.9,272.7 116.0,273.5 C113.1,274.3 108.8,274.2 108.0,273.5 C107.2,272.8 110.0,270.7 111.0,269.0 C112.0,267.3 113.1,265.6 113.8,263.4 C114.5,261.2 115.4,258.1 115.3,256.0 C115.2,253.9 112.3,252.2 113.1,251.0 Z" fill="#3d5fcc"/>
<ellipse cx="130" cy="254" rx="16" ry="5" fill="#3a86d4" opacity="1" transform="rotate(-12 130 254)" filter="url(#blur2)"/>
<ellipse cx="142" cy="251" rx="8" ry="3" fill="#4a9ad8" opacity="0.8" transform="rotate(-5 142 251)" filter="url(#blur1)"/>
<path d="M113.1,251.0 C113.9,249.8 117.5,249.2 120.0,248.6 C122.5,248.0 125.7,247.6 128.4,247.3 C131.1,247.0 133.6,246.9 136.0,246.8 C138.4,246.8 140.4,246.7 143.0,247.0 C145.6,247.3 151.3,247.5 151.8,248.8 C152.3,250.1 148.6,252.4 145.9,254.6 C143.2,256.8 139.1,259.6 135.7,261.9 C132.3,264.2 128.8,266.6 125.5,268.5 C122.2,270.4 118.9,272.7 116.0,273.5 C113.1,274.3 108.8,274.2 108.0,273.5 C107.2,272.8 110.0,270.7 111.0,269.0 C112.0,267.3 113.1,265.6 113.8,263.4 C114.5,261.2 115.4,258.1 115.3,256.0 C115.2,253.9 112.3,252.2 113.1,251.0 Z" fill="none" stroke="#3d5fcc" stroke-width="1.3" filter="url(#blur1)"/>
</g>
<clipPath id="clip7"><path d="M74.4,264.1 L80.2,261.9 L89.0,264.8 L99.2,269.2 L108.0,271.4 L118.2,273.6 L131.3,276.5 L143.0,275.8 L150.3,273.6 L152.5,268.5 L156.1,267.0 L160.5,267.7 L162.7,271.4 L163.4,277.0 L175.0,278.0 L195.1,277.0 L192.0,287.0 L189.2,296.2 L184.0,303.0 L178.8,308.1 L172.9,314.0 L171.4,318.5 L186.2,320.7 L202.5,314.1 L198.1,328.1 L195.1,334.0 L189.2,342.9 L181.8,353.3 L180.3,357.7 L174.4,362.2 L167.0,369.6 L159.6,375.5 L150.7,378.4 L147.8,388.8 L144.8,382.9 L138.9,380.5 L131.0,377.0 L119.2,368.0 L108.8,362.2 L98.5,357.7 L89.6,348.8 L77.0,334.0 L74.8,325.2 L73.3,311.8 L89.6,308.9 L104.4,305.9 L122.2,302.2 L132.0,294.0 L126.0,288.5 L118.0,285.5 L110.9,282.3 L102.0,277.5 L92.0,275.5 L84.0,276.0 L78.8,274.0 L75.5,270.0 Z"/></clipPath>
<path d="M74.4,264.1 L80.2,261.9 L89.0,264.8 L99.2,269.2 L108.0,271.4 L118.2,273.6 L131.3,276.5 L143.0,275.8 L150.3,273.6 L152.5,268.5 L156.1,267.0 L160.5,267.7 L162.7,271.4 L163.4,277.0 L175.0,278.0 L195.1,277.0 L192.0,287.0 L189.2,296.2 L184.0,303.0 L178.8,308.1 L172.9,314.0 L171.4,318.5 L186.2,320.7 L202.5,314.1 L198.1,328.1 L195.1,334.0 L189.2,342.9 L181.8,353.3 L180.3,357.7 L174.4,362.2 L167.0,369.6 L159.6,375.5 L150.7,378.4 L147.8,388.8 L144.8,382.9 L138.9,380.5 L131.0,377.0 L119.2,368.0 L108.8,362.2 L98.5,357.7 L89.6,348.8 L77.0,334.0 L74.8,325.2 L73.3,311.8 L89.6,308.9 L104.4,305.9 L122.2,302.2 L132.0,294.0 L126.0,288.5 L118.0,285.5 L110.9,282.3 L102.0,277.5 L92.0,275.5 L84.0,276.0 L78.8,274.0 L75.5,270.0 Z" fill="none" stroke="#b8b8e0" stroke-width="1.4" opacity="0.7" filter="url(#blur1)"/>
<g clip-path="url(#clip7)">
<path d="M74.4,264.1 L80.2,261.9 L89.0,264.8 L99.2,269.2 L108.0,271.4 L118.2,273.6 L131.3,276.5 L143.0,275.8 L150.3,273.6 L152.5,268.5 L156.1,267.0 L160.5,267.7 L162.7,271.4 L163.4,277.0 L175.0,278.0 L195.1,277.0 L192.0,287.0 L189.2,296.2 L184.0,303.0 L178.8,308.1 L172.9,314.0 L171.4,318.5 L186.2,320.7 L202.5,314.1 L198.1,328.1 L195.1,334.0 L189.2,342.9 L181.8,353.3 L180.3,357.7 L174.4,362.2 L167.0,369.6 L159.6,375.5 L150.7,378.4 L147.8,388.8 L144.8,382.9 L138.9,380.5 L131.0,377.0 L119.2,368.0 L108.8,362.2 L98.5,357.7 L89.6,348.8 L77.0,334.0 L74.8,325.2 L73.3,311.8 L89.6,308.9 L104.4,305.9 L122.2,302.2 L132.0,294.0 L126.0,288.5 L118.0,285.5 L110.9,282.3 L102.0,277.5 L92.0,275.5 L84.0,276.0 L78.8,274.0 L75.5,270.0 Z" fill="#3a5cc8"/>
<rect x="60" y="255" width="150" height="140" fill="#4a9ad2"/>
<ellipse cx="170" cy="345" rx="28" ry="30" fill="#48a8c0" opacity="1" transform="rotate(0 170 345)" filter="url(#blur3)"/>
<path d="M74.0,312.0 C77.7,307.0 91.5,307.8 100.0,306.0 C108.5,304.2 118.7,302.7 125.0,301.0 C131.3,299.3 134.2,298.5 138.0,296.0 C141.8,293.5 145.3,286.0 148.0,286.0 C150.7,286.0 154.3,291.0 154.0,296.0 C153.7,301.0 151.3,310.3 146.0,316.0 C140.7,321.7 130.5,326.3 122.0,330.0 C113.5,333.7 102.3,337.0 95.0,338.0 C87.7,339.0 81.5,340.3 78.0,336.0 C74.5,331.7 70.3,317.0 74.0,312.0 Z" fill="#e0b03c" opacity="1" filter="url(#blur3)"/>
<ellipse cx="80" cy="320" rx="7" ry="8" fill="#f0a858" opacity="0.9" transform="rotate(0 80 320)" filter="url(#blur2)"/>
<ellipse cx="105" cy="342" rx="26" ry="11" fill="#a0c450" opacity="0.9" transform="rotate(-8 105 342)" filter="url(#blur3)"/>
<ellipse cx="105" cy="360" rx="22" ry="8" fill="#68b898" opacity="0.8" transform="rotate(15 105 360)" filter="url(#blur3)"/>
<path d="M112.0,346.0 C112.7,344.3 120.3,349.2 126.0,350.0 C131.7,350.8 140.3,351.7 146.0,351.0 C151.7,350.3 156.3,345.2 160.0,346.0 C163.7,346.8 169.7,353.0 168.0,356.0 C166.3,359.0 157.7,363.3 150.0,364.0 C142.3,364.7 128.3,363.0 122.0,360.0 C115.7,357.0 111.3,347.7 112.0,346.0 Z" fill="#c8c440" opacity="0.85" filter="url(#blur3)"/>
<path d="M84.0,342.0 C84.7,340.7 94.3,344.7 100.0,348.0 C105.7,351.3 118.7,360.7 118.0,362.0 C117.3,363.3 101.7,359.3 96.0,356.0 C90.3,352.7 83.3,343.3 84.0,342.0 Z" fill="#48a8b0" opacity="0.7" filter="url(#blur2)"/>
<path d="M145.0,292.0 C144.7,287.3 148.2,281.7 150.0,278.0 C151.8,274.3 154.2,271.0 156.0,270.0 C157.8,269.0 160.7,268.7 161.0,272.0 C161.3,275.3 159.5,284.3 158.0,290.0 C156.5,295.7 154.2,305.7 152.0,306.0 C149.8,306.3 145.3,296.7 145.0,292.0 Z" fill="#b8c444" opacity="0.9" filter="url(#blur2)"/>
<path d="M162.0,282.0 C167.0,277.8 186.0,277.0 190.0,280.0 C194.0,283.0 189.0,294.7 186.0,300.0 C183.0,305.3 176.3,311.2 172.0,312.0 C167.7,312.8 161.7,310.0 160.0,305.0 C158.3,300.0 157.0,286.2 162.0,282.0 Z" fill="#4a9ad2" opacity="0.9" filter="url(#blur2)"/>
<ellipse cx="174" cy="293" rx="7" ry="9" fill="#68b8b0" opacity="0.6" transform="rotate(0 174 293)" filter="url(#blur2)"/>
<ellipse cx="178" cy="338" rx="10" ry="12" fill="#70b890" opacity="0.7" transform="rotate(0 178 338)" filter="url(#blur3)"/>
<ellipse cx="188" cy="328" rx="6" ry="5" fill="#a8c850" opacity="0.6" transform="rotate(0 188 328)" filter="url(#blur2)"/>
<ellipse cx="160" cy="366" rx="10" ry="6" fill="#a8c850" opacity="0.6" transform="rotate(0 160 366)" filter="url(#blur3)"/>
<path d="M75.0,262.0 C78.3,261.0 90.8,265.7 100.0,268.0 C109.2,270.3 121.7,275.0 130.0,276.0 C138.3,277.0 149.2,271.7 150.0,274.0 C150.8,276.3 141.7,288.7 135.0,290.0 C128.3,291.3 119.2,284.7 110.0,282.0 C100.8,279.3 85.8,277.3 80.0,274.0 C74.2,270.7 71.7,263.0 75.0,262.0 Z" fill="#4a8ad6" opacity="1" filter="url(#blur1)"/>
<path d="M74.4,264.1 L80.2,261.9 L89.0,264.8 L99.2,269.2 L108.0,271.4 L118.2,273.6 L131.3,276.5 L143.0,275.8 L150.3,273.6 L152.5,268.5 L156.1,267.0 L160.5,267.7 L162.7,271.4 L163.4,277.0 L175.0,278.0 L195.1,277.0 L192.0,287.0 L189.2,296.2 L184.0,303.0 L178.8,308.1 L172.9,314.0 L171.4,318.5 L186.2,320.7 L202.5,314.1 L198.1,328.1 L195.1,334.0 L189.2,342.9 L181.8,353.3 L180.3,357.7 L174.4,362.2 L167.0,369.6 L159.6,375.5 L150.7,378.4 L147.8,388.8 L144.8,382.9 L138.9,380.5 L131.0,377.0 L119.2,368.0 L108.8,362.2 L98.5,357.7 L89.6,348.8 L77.0,334.0 L74.8,325.2 L73.3,311.8 L89.6,308.9 L104.4,305.9 L122.2,302.2 L132.0,294.0 L126.0,288.5 L118.0,285.5 L110.9,282.3 L102.0,277.5 L92.0,275.5 L84.0,276.0 L78.8,274.0 L75.5,270.0 Z" fill="none" stroke="#3a5cc8" stroke-width="2.0" filter="url(#blur1)"/>
</g>
<path d="M123.0,335.0 C123.2,332.0 124.3,327.4 126.0,325.0 C127.7,322.6 130.3,321.2 133.0,320.5 C135.7,319.8 139.3,320.1 142.0,321.0 C144.7,321.9 147.4,323.7 149.0,326.0 C150.6,328.3 151.5,332.0 151.5,335.0 C151.5,338.0 150.8,341.6 149.0,344.0 C147.2,346.4 144.0,348.7 141.0,349.5 C138.0,350.3 133.7,350.1 131.0,349.0 C128.3,347.9 126.3,345.3 125.0,343.0 C123.7,340.7 122.8,338.0 123.0,335.0 Z" fill="none" stroke="#3a4cc0" stroke-width="3" filter="url(#blur1)"/>
<path d="M123.0,335.0 C123.2,332.0 124.3,327.4 126.0,325.0 C127.7,322.6 130.3,321.2 133.0,320.5 C135.7,319.8 139.3,320.1 142.0,321.0 C144.7,321.9 147.4,323.7 149.0,326.0 C150.6,328.3 151.5,332.0 151.5,335.0 C151.5,338.0 150.8,341.6 149.0,344.0 C147.2,346.4 144.0,348.7 141.0,349.5 C138.0,350.3 133.7,350.1 131.0,349.0 C128.3,347.9 126.3,345.3 125.0,343.0 C123.7,340.7 122.8,338.0 123.0,335.0 Z" fill="#f4f6f9"/>
<path d="M161.0,272.0 C160.3,274.2 158.5,280.3 157.0,285.0 C155.5,289.7 153.8,294.5 152.0,300.0 C150.2,305.5 147.0,315.0 146.0,318.0" fill="none" stroke="#3a64c8" stroke-width="2" opacity="0.6" filter="url(#blur1)"/>
<path d="M150.0,340.0 C151.7,339.3 156.5,339.7 160.0,336.0 C163.5,332.3 169.2,321.0 171.0,318.0" fill="none" stroke="#3a64c8" stroke-width="1.6" opacity="0.5" filter="url(#blur1)"/>
<clipPath id="clip8"><path d="M99.2,452.2 C99.9,450.4 101.6,447.9 104.4,446.3 C107.2,444.7 112.0,443.5 116.2,442.6 C120.4,441.7 125.1,441.3 129.6,441.1 C134.0,440.9 142.7,440.6 142.9,441.5 C143.1,442.4 134.9,444.8 131.0,446.3 C127.0,447.8 122.7,449.2 119.2,450.7 C115.7,452.2 112.5,454.1 110.0,455.5 C107.5,456.9 106.1,458.6 104.4,458.9 C102.7,459.1 100.9,458.1 100.0,457.0 C99.1,455.9 98.5,454.0 99.2,452.2 Z"/></clipPath>
<path d="M99.2,452.2 C99.9,450.4 101.6,447.9 104.4,446.3 C107.2,444.7 112.0,443.5 116.2,442.6 C120.4,441.7 125.1,441.3 129.6,441.1 C134.0,440.9 142.7,440.6 142.9,441.5 C143.1,442.4 134.9,444.8 131.0,446.3 C127.0,447.8 122.7,449.2 119.2,450.7 C115.7,452.2 112.5,454.1 110.0,455.5 C107.5,456.9 106.1,458.6 104.4,458.9 C102.7,459.1 100.9,458.1 100.0,457.0 C99.1,455.9 98.5,454.0 99.2,452.2 Z" fill="none" stroke="#c0b0e0" stroke-width="1.5" opacity="0.7" filter="url(#blur1)"/>
<g clip-path="url(#clip8)">
<path d="M99.2,452.2 C99.9,450.4 101.6,447.9 104.4,446.3 C107.2,444.7 112.0,443.5 116.2,442.6 C120.4,441.7 125.1,441.3 129.6,441.1 C134.0,440.9 142.7,440.6 142.9,441.5 C143.1,442.4 134.9,444.8 131.0,446.3 C127.0,447.8 122.7,449.2 119.2,450.7 C115.7,452.2 112.5,454.1 110.0,455.5 C107.5,456.9 106.1,458.6 104.4,458.9 C102.7,459.1 100.9,458.1 100.0,457.0 C99.1,455.9 98.5,454.0 99.2,452.2 Z" fill="#3b4fc4"/>
<ellipse cx="112" cy="448" rx="10" ry="4" fill="#4a7ae0" opacity="1" transform="rotate(-10 112 448)" filter="url(#blur2)"/>
<path d="M99.2,452.2 C99.9,450.4 101.6,447.9 104.4,446.3 C107.2,444.7 112.0,443.5 116.2,442.6 C120.4,441.7 125.1,441.3 129.6,441.1 C134.0,440.9 142.7,440.6 142.9,441.5 C143.1,442.4 134.9,444.8 131.0,446.3 C127.0,447.8 122.7,449.2 119.2,450.7 C115.7,452.2 112.5,454.1 110.0,455.5 C107.5,456.9 106.1,458.6 104.4,458.9 C102.7,459.1 100.9,458.1 100.0,457.0 C99.1,455.9 98.5,454.0 99.2,452.2 Z" fill="none" stroke="#3b4fc4" stroke-width="1.4" filter="url(#blur1)"/>
</g>
<path d="M104,458 Q112,463 128,464.8" fill="none" stroke="#8a90d8" stroke-width="1.2" opacity="0.8"/>
<clipPath id="clip9"><path d="M68.9,480.3 C70.0,479.3 72.8,480.5 76.3,481.0 C79.8,481.5 84.9,483.7 89.6,483.3 C94.3,482.9 99.5,480.5 104.4,478.8 C109.3,477.1 115.0,475.1 119.2,472.9 C123.4,470.7 126.6,468.6 129.6,465.5 C132.6,462.4 135.4,455.2 137.4,454.1 C139.4,453.1 139.3,457.6 141.8,459.2 C144.3,460.8 148.0,462.7 152.2,463.7 C156.4,464.7 162.1,465.3 167.0,465.2 C171.9,465.1 177.4,463.5 181.8,463.0 C186.2,462.5 190.6,461.8 193.6,462.2 C196.6,462.6 197.9,463.2 199.6,465.2 C201.3,467.2 202.8,471.4 204.0,474.0 C205.2,476.6 207.0,478.2 207.0,480.7 C207.0,483.2 205.2,485.7 204.0,488.8 C202.8,491.9 201.1,495.5 199.6,499.2 C198.1,502.9 196.8,507.1 195.1,511.0 C193.4,515.0 190.7,519.9 189.2,522.9 C187.7,525.9 188.1,526.8 186.2,528.8 C184.3,530.8 182.6,532.8 178.0,535.0 C173.4,537.2 165.5,540.2 158.8,542.0 C152.1,543.8 143.9,544.0 137.8,545.5 C131.7,547.0 126.3,551.7 122.0,550.8 C117.7,549.9 115.0,544.1 112.0,540.0 C109.0,535.9 106.0,530.2 104.0,526.0 C102.0,521.8 101.8,518.2 100.0,515.0 C98.2,511.8 95.7,509.8 93.0,507.0 C90.3,504.2 86.8,500.5 84.0,498.0 C81.2,495.5 78.3,493.8 76.0,492.0 C73.7,490.2 71.2,488.9 70.0,487.0 C68.8,485.1 67.9,481.3 68.9,480.3 Z"/></clipPath>
<path d="M68.9,480.3 C70.0,479.3 72.8,480.5 76.3,481.0 C79.8,481.5 84.9,483.7 89.6,483.3 C94.3,482.9 99.5,480.5 104.4,478.8 C109.3,477.1 115.0,475.1 119.2,472.9 C123.4,470.7 126.6,468.6 129.6,465.5 C132.6,462.4 135.4,455.2 137.4,454.1 C139.4,453.1 139.3,457.6 141.8,459.2 C144.3,460.8 148.0,462.7 152.2,463.7 C156.4,464.7 162.1,465.3 167.0,465.2 C171.9,465.1 177.4,463.5 181.8,463.0 C186.2,462.5 190.6,461.8 193.6,462.2 C196.6,462.6 197.9,463.2 199.6,465.2 C201.3,467.2 202.8,471.4 204.0,474.0 C205.2,476.6 207.0,478.2 207.0,480.7 C207.0,483.2 205.2,485.7 204.0,488.8 C202.8,491.9 201.1,495.5 199.6,499.2 C198.1,502.9 196.8,507.1 195.1,511.0 C193.4,515.0 190.7,519.9 189.2,522.9 C187.7,525.9 188.1,526.8 186.2,528.8 C184.3,530.8 182.6,532.8 178.0,535.0 C173.4,537.2 165.5,540.2 158.8,542.0 C152.1,543.8 143.9,544.0 137.8,545.5 C131.7,547.0 126.3,551.7 122.0,550.8 C117.7,549.9 115.0,544.1 112.0,540.0 C109.0,535.9 106.0,530.2 104.0,526.0 C102.0,521.8 101.8,518.2 100.0,515.0 C98.2,511.8 95.7,509.8 93.0,507.0 C90.3,504.2 86.8,500.5 84.0,498.0 C81.2,495.5 78.3,493.8 76.0,492.0 C73.7,490.2 71.2,488.9 70.0,487.0 C68.8,485.1 67.9,481.3 68.9,480.3 Z" fill="none" stroke="#b8b0e0" stroke-width="1.5" opacity="0.7" filter="url(#blur1)"/>
<g clip-path="url(#clip9)">
<path d="M68.9,480.3 C70.0,479.3 72.8,480.5 76.3,481.0 C79.8,481.5 84.9,483.7 89.6,483.3 C94.3,482.9 99.5,480.5 104.4,478.8 C109.3,477.1 115.0,475.1 119.2,472.9 C123.4,470.7 126.6,468.6 129.6,465.5 C132.6,462.4 135.4,455.2 137.4,454.1 C139.4,453.1 139.3,457.6 141.8,459.2 C144.3,460.8 148.0,462.7 152.2,463.7 C156.4,464.7 162.1,465.3 167.0,465.2 C171.9,465.1 177.4,463.5 181.8,463.0 C186.2,462.5 190.6,461.8 193.6,462.2 C196.6,462.6 197.9,463.2 199.6,465.2 C201.3,467.2 202.8,471.4 204.0,474.0 C205.2,476.6 207.0,478.2 207.0,480.7 C207.0,483.2 205.2,485.7 204.0,488.8 C202.8,491.9 201.1,495.5 199.6,499.2 C198.1,502.9 196.8,507.1 195.1,511.0 C193.4,515.0 190.7,519.9 189.2,522.9 C187.7,525.9 188.1,526.8 186.2,528.8 C184.3,530.8 182.6,532.8 178.0,535.0 C173.4,537.2 165.5,540.2 158.8,542.0 C152.1,543.8 143.9,544.0 137.8,545.5 C131.7,547.0 126.3,551.7 122.0,550.8 C117.7,549.9 115.0,544.1 112.0,540.0 C109.0,535.9 106.0,530.2 104.0,526.0 C102.0,521.8 101.8,518.2 100.0,515.0 C98.2,511.8 95.7,509.8 93.0,507.0 C90.3,504.2 86.8,500.5 84.0,498.0 C81.2,495.5 78.3,493.8 76.0,492.0 C73.7,490.2 71.2,488.9 70.0,487.0 C68.8,485.1 67.9,481.3 68.9,480.3 Z" fill="#3a5cc8"/>
<rect x="60" y="440" width="160" height="120" fill="#3aa0b8"/>
<ellipse cx="140" cy="492" rx="62" ry="36" fill="#a8cc40" opacity="1" transform="rotate(-5 140 492)" filter="url(#blur3)"/>
<ellipse cx="120" cy="500" rx="25" ry="18" fill="#70c060" opacity="0.8" transform="rotate(0 120 500)" filter="url(#blur3)"/>
<ellipse cx="168" cy="498" rx="36" ry="28" fill="#e0b430" opacity="1" transform="rotate(-10 168 498)" filter="url(#blur3)"/>
<ellipse cx="170" cy="500" rx="22" ry="18" fill="#d8c838" opacity="1" transform="rotate(0 170 500)" filter="url(#blur2)"/>
<ellipse cx="171.4" cy="502.2" rx="11" ry="11" fill="#3a70d8" opacity="1" transform="rotate(0 171.4 502.2)" filter="url(#blur2)"/>
<ellipse cx="171.4" cy="502.2" rx="7.5" ry="7.5" fill="#3858d8" opacity="1" transform="rotate(0 171.4 502.2)" filter="url(#blur1)"/>
<ellipse cx="82" cy="486" rx="12" ry="6" fill="#d8d860" opacity="0.9" transform="rotate(0 82 486)" filter="url(#blur2)"/>
<ellipse cx="136" cy="468" rx="10" ry="6" fill="#40b0a8" opacity="0.85" transform="rotate(0 136 468)" filter="url(#blur2)"/>
<ellipse cx="195" cy="475" rx="8" ry="10" fill="#98c840" opacity="0.8" transform="rotate(0 195 475)" filter="url(#blur2)"/>
<path d="M108.0,522.0 C110.5,518.7 119.7,518.3 125.0,520.0 C130.3,521.7 134.2,529.2 140.0,532.0 C145.8,534.8 158.3,534.8 160.0,537.0 C161.7,539.2 155.8,543.2 150.0,545.0 C144.2,546.8 131.7,548.8 125.0,548.0 C118.3,547.2 112.8,544.3 110.0,540.0 C107.2,535.7 105.5,525.3 108.0,522.0 Z" fill="#40a0c0" opacity="0.8" filter="url(#blur2)"/>
<ellipse cx="165" cy="528" rx="22" ry="7" fill="#a0c848" opacity="0.8" transform="rotate(-20 165 528)" filter="url(#blur3)"/>
<path d="M68.9,480.3 C70.0,479.3 72.8,480.5 76.3,481.0 C79.8,481.5 84.9,483.7 89.6,483.3 C94.3,482.9 99.5,480.5 104.4,478.8 C109.3,477.1 115.0,475.1 119.2,472.9 C123.4,470.7 126.6,468.6 129.6,465.5 C132.6,462.4 135.4,455.2 137.4,454.1 C139.4,453.1 139.3,457.6 141.8,459.2 C144.3,460.8 148.0,462.7 152.2,463.7 C156.4,464.7 162.1,465.3 167.0,465.2 C171.9,465.1 177.4,463.5 181.8,463.0 C186.2,462.5 190.6,461.8 193.6,462.2 C196.6,462.6 197.9,463.2 199.6,465.2 C201.3,467.2 202.8,471.4 204.0,474.0 C205.2,476.6 207.0,478.2 207.0,480.7 C207.0,483.2 205.2,485.7 204.0,488.8 C202.8,491.9 201.1,495.5 199.6,499.2 C198.1,502.9 196.8,507.1 195.1,511.0 C193.4,515.0 190.7,519.9 189.2,522.9 C187.7,525.9 188.1,526.8 186.2,528.8 C184.3,530.8 182.6,532.8 178.0,535.0 C173.4,537.2 165.5,540.2 158.8,542.0 C152.1,543.8 143.9,544.0 137.8,545.5 C131.7,547.0 126.3,551.7 122.0,550.8 C117.7,549.9 115.0,544.1 112.0,540.0 C109.0,535.9 106.0,530.2 104.0,526.0 C102.0,521.8 101.8,518.2 100.0,515.0 C98.2,511.8 95.7,509.8 93.0,507.0 C90.3,504.2 86.8,500.5 84.0,498.0 C81.2,495.5 78.3,493.8 76.0,492.0 C73.7,490.2 71.2,488.9 70.0,487.0 C68.8,485.1 67.9,481.3 68.9,480.3 Z" fill="none" stroke="#3a5cc8" stroke-width="2.2" filter="url(#blur1)"/>
</g>
<clipPath id="clip10"><path d="M87.0,528.0 C87.6,525.0 88.5,521.3 90.0,519.0 C91.5,516.7 93.5,515.1 96.0,514.0 C98.5,512.9 102.4,512.3 105.2,512.5 C108.0,512.7 110.5,513.4 113.0,515.0 C115.5,516.6 118.0,518.8 120.0,522.0 C122.0,525.2 124.0,529.8 125.0,534.0 C126.0,538.2 126.3,543.2 126.0,547.0 C125.7,550.8 125.2,555.1 123.3,557.0 C121.3,558.9 117.9,559.1 114.3,558.6 C110.7,558.1 105.3,556.0 101.6,554.1 C97.9,552.2 94.5,549.9 92.0,547.0 C89.5,544.1 87.3,540.2 86.5,537.0 C85.7,533.8 86.4,531.0 87.0,528.0 Z"/></clipPath>
<path d="M87.0,528.0 C87.6,525.0 88.5,521.3 90.0,519.0 C91.5,516.7 93.5,515.1 96.0,514.0 C98.5,512.9 102.4,512.3 105.2,512.5 C108.0,512.7 110.5,513.4 113.0,515.0 C115.5,516.6 118.0,518.8 120.0,522.0 C122.0,525.2 124.0,529.8 125.0,534.0 C126.0,538.2 126.3,543.2 126.0,547.0 C125.7,550.8 125.2,555.1 123.3,557.0 C121.3,558.9 117.9,559.1 114.3,558.6 C110.7,558.1 105.3,556.0 101.6,554.1 C97.9,552.2 94.5,549.9 92.0,547.0 C89.5,544.1 87.3,540.2 86.5,537.0 C85.7,533.8 86.4,531.0 87.0,528.0 Z" fill="none" stroke="#c0b0e0" stroke-width="1.5" opacity="0.7" filter="url(#blur1)"/>
<g clip-path="url(#clip10)">
<path d="M87.0,528.0 C87.6,525.0 88.5,521.3 90.0,519.0 C91.5,516.7 93.5,515.1 96.0,514.0 C98.5,512.9 102.4,512.3 105.2,512.5 C108.0,512.7 110.5,513.4 113.0,515.0 C115.5,516.6 118.0,518.8 120.0,522.0 C122.0,525.2 124.0,529.8 125.0,534.0 C126.0,538.2 126.3,543.2 126.0,547.0 C125.7,550.8 125.2,555.1 123.3,557.0 C121.3,558.9 117.9,559.1 114.3,558.6 C110.7,558.1 105.3,556.0 101.6,554.1 C97.9,552.2 94.5,549.9 92.0,547.0 C89.5,544.1 87.3,540.2 86.5,537.0 C85.7,533.8 86.4,531.0 87.0,528.0 Z" fill="#4a68d0"/>
<ellipse cx="106" cy="537" rx="17" ry="20" fill="#3aa0c0" opacity="1" transform="rotate(-15 106 537)" filter="url(#blur2)"/>
<ellipse cx="107" cy="538" rx="11" ry="14" fill="#3a90c0" opacity="1" transform="rotate(-15 107 538)" filter="url(#blur2)"/>
<ellipse cx="104" cy="530" rx="5" ry="8" fill="#58b8a0" opacity="0.6" transform="rotate(-15 104 530)" filter="url(#blur2)"/>
<path d="M87.0,528.0 C87.6,525.0 88.5,521.3 90.0,519.0 C91.5,516.7 93.5,515.1 96.0,514.0 C98.5,512.9 102.4,512.3 105.2,512.5 C108.0,512.7 110.5,513.4 113.0,515.0 C115.5,516.6 118.0,518.8 120.0,522.0 C122.0,525.2 124.0,529.8 125.0,534.0 C126.0,538.2 126.3,543.2 126.0,547.0 C125.7,550.8 125.2,555.1 123.3,557.0 C121.3,558.9 117.9,559.1 114.3,558.6 C110.7,558.1 105.3,556.0 101.6,554.1 C97.9,552.2 94.5,549.9 92.0,547.0 C89.5,544.1 87.3,540.2 86.5,537.0 C85.7,533.8 86.4,531.0 87.0,528.0 Z" fill="none" stroke="#4a68d0" stroke-width="1.6" filter="url(#blur1)"/>
</g>
<ellipse cx="106.5" cy="537" rx="14" ry="17" fill="none" stroke="#58b8b0" stroke-width="1.2" opacity="0.55" transform="rotate(-15 106.5 537)"/>
<ellipse cx="112.5" cy="517.5" rx="2.5" ry="2" fill="#ffffff" opacity="0.9" filter="url(#blur1)"/>
</g>
<rect x="232.6" y="34" width="10.4" height="172.5" fill="url(#cbar)"/>
<text x="244.5" y="36.5" font-family="Liberation Sans" font-size="4.3" fill="#8a8f9a">1</text>
<text x="244.5" y="60.9" font-family="Liberation Sans" font-size="4.3" fill="#8a8f9a">0.95</text>
<text x="244.5" y="85.2" font-family="Liberation Sans" font-size="4.3" fill="#8a8f9a">0.9</text>
<text x="244.5" y="109.6" font-family="Liberation Sans" font-size="4.3" fill="#8a8f9a">0.85</text>
<text x="244.5" y="133.9" font-family="Liberation Sans" font-size="4.3" fill="#8a8f9a">0.8</text>
<text x="244.5" y="158.3" font-family="Liberation Sans" font-size="4.3" fill="#8a8f9a">0.75</text>
<text x="244.5" y="182.6" font-family="Liberation Sans" font-size="4.3" fill="#8a8f9a">0.7</text>
<text x="244.5" y="207.0" font-family="Liberation Sans" font-size="4.3" fill="#8a8f9a">0.65</text>
<rect x="232.6" y="224" width="10.4" height="174.7" fill="url(#cbar)"/>
<text x="244.5" y="226.5" font-family="Liberation Sans" font-size="4.3" fill="#8a8f9a">1</text>
<text x="244.5" y="251.2" font-family="Liberation Sans" font-size="4.3" fill="#8a8f9a">0.95</text>
<text x="244.5" y="275.8" font-family="Liberation Sans" font-size="4.3" fill="#8a8f9a">0.9</text>
<text x="244.5" y="300.5" font-family="Liberation Sans" font-size="4.3" fill="#8a8f9a">0.85</text>
<text x="244.5" y="325.2" font-family="Liberation Sans" font-size="4.3" fill="#8a8f9a">0.8</text>
<text x="244.5" y="349.9" font-family="Liberation Sans" font-size="4.3" fill="#8a8f9a">0.75</text>
<text x="244.5" y="374.5" font-family="Liberation Sans" font-size="4.3" fill="#8a8f9a">0.7</text>
<text x="244.5" y="399.2" font-family="Liberation Sans" font-size="4.3" fill="#8a8f9a">0.65</text>
<rect x="232.6" y="416" width="10.4" height="175.0" fill="url(#cbar)"/>
<text x="244.5" y="418.5" font-family="Liberation Sans" font-size="4.3" fill="#8a8f9a">1</text>
<text x="244.5" y="443.2" font-family="Liberation Sans" font-size="4.3" fill="#8a8f9a">0.95</text>
<text x="244.5" y="467.9" font-family="Liberation Sans" font-size="4.3" fill="#8a8f9a">0.9</text>
<text x="244.5" y="492.6" font-family="Liberation Sans" font-size="4.3" fill="#8a8f9a">0.85</text>
<text x="244.5" y="517.4" font-family="Liberation Sans" font-size="4.3" fill="#8a8f9a">0.8</text>
<text x="244.5" y="542.1" font-family="Liberation Sans" font-size="4.3" fill="#8a8f9a">0.75</text>
<text x="244.5" y="566.8" font-family="Liberation Sans" font-size="4.3" fill="#8a8f9a">0.7</text>
<text x="244.5" y="591.5" font-family="Liberation Sans" font-size="4.3" fill="#8a8f9a">0.65</text>
<text x="44.20 52.85 61.50 70.15" y="47.9" text-anchor="middle" font-family="Liberation Serif" font-size="13.4" fill="#1a1a1a" stroke="#1a1a1a" stroke-width="0.12">s204</text>
<text x="44.20 52.85 61.50 70.15" y="231.7" text-anchor="middle" font-family="Liberation Serif" font-size="13.4" fill="#1a1a1a" stroke="#1a1a1a" stroke-width="0.12">s653</text>
<text x="44.20 52.85 61.50 70.15" y="425.0" text-anchor="middle" font-family="Liberation Serif" font-size="13.4" fill="#1a1a1a" stroke="#1a1a1a" stroke-width="0.12">s906</text>
<rect x="32.6" y="29.8" width="221.8" height="566.6" fill="none" stroke="#4a6ce8" stroke-width="1.6"/>
<line x1="32" y1="212.8" x2="255" y2="212.8" stroke="#4a6ce8" stroke-width="2"/>
<line x1="32" y1="405.8" x2="255" y2="405.8" stroke="#4a6ce8" stroke-width="2"/>
<text x="7.5" y="22.5" font-family="Liberation Sans" font-size="17.5" fill="#111">(a)</text>
<path d="M444.0,118.8 L444.0,118.0 L448.0,115.0 L449.2,114.8 L450.4,114.6 L451.6,114.2 L452.8,113.0 L453.8,112.3 L454.9,110.0 L455.9,108.6 L457.0,104.7 L458.0,104.0 L459.0,101.9 L460.0,101.1 L461.0,98.4 L462.0,96.0 L463.0,89.0 L464.0,80.0 L465.0,67.4 L466.4,54.0 L467.2,66.0 L468.0,67.0 L469.4,64.9 L470.8,64.6 L472.1,54.1 L473.3,43.7 L474.4,47.2 L475.5,52.0 L476.8,60.1 L478.0,68.0 L479.1,75.5 L480.3,82.6 L481.6,87.1 L483.0,94.0 L484.0,92.8 L485.0,92.5 L486.0,93.5 L487.0,92.0 L488.1,90.8 L489.2,87.4 L490.4,87.1 L491.5,83.6 L492.6,82.6 L493.8,81.5 L495.0,78.9 L496.2,77.2 L497.4,77.0 L498.7,74.4 L500.0,70.0 L501.0,65.3 L502.0,61.3 L503.0,58.0 L504.0,52.2 L505.0,44.0 L506.8,35.0 L508.2,31.7 L509.7,26.6 L511.6,37.0 L512.8,38.0 L514.0,40.0 L515.1,34.0 L516.3,25.7 L517.8,31.4 L519.2,37.0 L521.0,48.0 L522.0,53.4 L523.0,58.0 L524.3,62.3 L525.5,69.1 L526.8,73.0 L528.1,78.5 L529.3,84.1 L530.6,88.0 L531.7,90.5 L532.9,90.7 L534.0,92.5 L535.2,93.6 L536.3,96.0 L537.5,95.6 L538.6,95.9 L539.8,96.9 L541.0,97.8 L542.2,94.1 L543.5,90.0 L544.6,82.3 L545.7,77.0 L546.9,68.9 L548.0,60.0 L549.2,53.9 L550.5,48.5 L551.8,45.5 L553.0,44.3 L554.3,41.0 L555.4,40.6 L556.4,39.8 L557.5,39.8 L558.5,39.9 L559.6,39.0 L560.7,37.5 L561.7,39.2 L562.8,36.4 L563.8,37.7 L564.9,36.6 L565.9,37.9 L567.0,36.4 L568.0,38.0 L569.0,39.7 L570.0,39.7 L571.0,41.0 L572.0,43.2 L573.0,43.8 L574.0,47.0 L575.1,49.9 L576.3,55.0 L577.6,60.2 L579.0,67.0 L580.2,77.0 L581.5,84.8 L582.7,88.1 L583.8,93.5 L585.0,97.0 L586.2,99.7 L587.3,101.4 L588.5,102.0 L589.7,100.0 L590.8,98.3 L592.0,97.0 L593.2,90.7 L594.3,84.9 L595.5,77.8 L596.7,70.9 L597.8,66.5 L599.0,60.0 L600.2,59.4 L601.3,58.2 L602.5,56.0 L603.8,49.9 L605.0,46.0 L606.1,46.4 L607.2,43.7 L608.2,43.7 L609.3,43.7 L610.4,42.8 L611.6,43.2 L612.8,41.2 L614.0,41.0 L615.1,41.7 L616.3,40.4 L617.4,40.0 L618.4,40.2 L619.5,40.9 L620.5,42.0 L621.5,42.6 L622.6,43.7 L623.6,46.0 L624.7,49.8 L625.9,55.8 L627.0,60.0 L628.1,64.3 L629.2,65.4 L630.3,68.3 L631.4,72.5 L632.5,78.0 L633.6,81.3 L634.7,85.4 L635.8,90.0 L636.8,92.2 L637.9,95.9 L639.0,99.3 L640.0,101.4 L641.1,99.7 L642.3,98.0 L643.5,95.5 L644.6,95.0 L645.7,90.7 L646.8,83.4 L647.9,79.2 L649.0,74.0 L650.1,71.3 L651.1,66.1 L652.2,64.1 L653.3,60.0 L654.5,56.1 L655.6,50.3 L656.8,45.0 L658.1,45.4 L659.5,44.5 L660.5,80.0 L661.0,118.0 L661.0,118.8 Z" fill="#7bbd87"/>
<path d="M445.0,216.0 L446.5,200.0 L449.0,188.0 L452.0,176.0 L455.0,160.0 L458.0,135.0 L459.5,122.0 L661.0,122.0 L661.0,216.0 L661.0,211.8 L659.7,195.8 L658.5,210.6 L657.1,215.4 L655.9,207.3 L654.3,215.9 L653.3,215.9 L651.7,205.3 L650.9,192.9 L649.2,206.6 L647.8,215.6 L647.1,210.1 L646.3,215.4 L645.3,216.0 L644.1,212.0 L642.5,210.3 L641.1,210.8 L639.7,211.7 L638.7,192.1 L636.9,199.6 L635.4,214.1 L634.4,214.4 L633.7,202.6 L632.5,199.4 L631.4,194.2 L629.8,216.0 L628.8,196.5 L627.6,193.0 L626.5,215.9 L625.1,202.2 L624.1,215.9 L623.0,193.9 L621.5,215.8 L620.5,215.8 L619.7,201.4 L618.9,209.3 L617.7,215.4 L616.2,215.7 L614.7,215.8 L613.6,215.2 L612.6,193.5 L611.0,214.3 L609.3,215.2 L608.2,199.0 L606.8,215.8 L605.0,215.2 L604.0,202.4 L603.0,214.3 L602.2,215.9 L600.8,214.9 L599.5,213.3 L598.3,194.1 L597.0,208.9 L595.4,215.4 L594.5,196.6 L592.9,214.9 L592.0,203.6 L590.3,215.3 L588.5,197.8 L587.2,212.4 L586.4,216.0 L584.6,215.0 L583.1,214.8 L581.5,208.3 L580.5,215.5 L579.0,215.9 L578.0,209.3 L576.4,207.8 L575.4,196.1 L574.5,216.0 L573.5,211.9 L572.7,215.5 L571.6,209.0 L570.8,213.4 L569.1,193.0 L567.7,205.3 L566.3,215.7 L565.6,216.0 L563.9,205.0 L562.1,216.0 L560.7,211.2 L559.2,214.1 L557.4,215.9 L556.1,203.7 L554.4,203.7 L552.9,201.6 L551.2,213.6 L549.8,196.9 L548.1,212.5 L546.6,198.6 L545.2,207.5 L544.1,208.7 L542.7,215.9 L541.3,192.4 L539.7,204.1 L538.5,203.8 L537.2,212.0 L535.6,215.9 L534.1,216.0 L532.7,211.2 L531.7,205.1 L530.5,207.8 L528.8,214.8 L528.1,214.3 L526.6,215.3 L525.7,196.7 L524.3,212.0 L522.6,213.9 L521.2,215.3 L520.0,201.1 L518.3,197.9 L517.2,208.7 L516.1,215.7 L514.9,199.8 L513.3,204.7 L511.5,214.6 L510.6,211.8 L509.6,215.2 L508.5,207.4 L507.2,214.1 L505.6,192.9 L504.4,215.9 L503.7,198.2 L502.9,204.8 L501.6,214.2 L500.0,216.0 L499.2,211.8 L498.5,200.1 L497.5,215.7 L496.7,207.3 L495.6,207.3 L494.1,201.0 L492.4,205.6 L491.5,211.3 L490.6,216.0 L489.3,204.6 L488.4,214.6 L487.4,205.1 L486.1,207.8 L484.6,212.9 L483.0,196.7 L482.2,195.4 L480.7,215.7 L479.5,207.4 L477.8,213.2 L476.5,197.9 L474.9,194.8 L473.7,206.7 L472.8,204.3 L471.2,207.0 L469.7,215.2 L468.0,193.0 L466.2,209.9 L464.6,214.0 L462.9,199.0 L461.9,215.9 L460.7,209.6 L459.0,210.0 L452.0,214.0 Z" fill="#7bbd87"/>
<rect x="509.4" y="72" width="1.8" height="46.5" fill="#fbfcfb" opacity="0.95"/>
<rect x="509.4" y="121.3" width="1.8" height="97.0" fill="#fbfcfb" opacity="0.95"/>
<rect x="555.8" y="79.5" width="2.4" height="39.0" fill="#fbfcfb" opacity="0.95"/>
<rect x="555.8" y="121.3" width="2.4" height="97.0" fill="#fbfcfb" opacity="0.95"/>
<rect x="606.9" y="79.5" width="2.6" height="39.0" fill="#fbfcfb" opacity="0.95"/>
<rect x="606.9" y="121.3" width="2.6" height="97.0" fill="#fbfcfb" opacity="0.95"/>
<polyline points="354.0,118.3 444.0,118.3 448.0,116.0 448.7,114.9 449.3,113.8 450.0,115.7 450.7,112.8 451.3,114.5 452.0,114.0 452.6,113.0 453.2,111.3 453.8,112.8 454.4,110.4 455.0,112.0 455.6,111.3 456.2,109.3 456.8,109.0 457.4,110.1 458.0,110.0 458.7,111.1 459.3,107.7 460.0,107.8 460.7,109.2 461.3,110.3 462.0,108.0 462.6,107.5 463.2,105.9 463.8,107.7 464.4,102.8 465.0,104.0 465.8,102.1 466.5,97.0 467.2,92.6 468.0,90.0 469.0,96.0 470.0,100.0 470.6,100.0 471.2,101.5 471.8,104.0 472.4,107.8 473.0,108.0 473.6,106.6 474.2,108.4 474.8,108.6 475.4,107.4 476.0,108.0 476.7,108.9 477.3,107.4 478.0,108.1 478.7,109.4 479.3,112.1 480.0,112.0 480.6,111.9 481.2,111.7 481.9,113.1 482.5,112.8 483.1,112.4 483.8,114.8 484.4,114.6 485.0,114.0 485.6,112.6 486.2,113.8 486.9,113.4 487.5,114.7 488.1,113.8 488.8,111.6 489.4,114.4 490.0,112.0 490.6,110.1 491.2,111.1 491.9,112.4 492.5,109.5 493.1,110.7 493.8,108.5 494.4,111.0 495.0,110.0 495.7,109.8 496.3,107.7 497.0,106.0 497.6,106.5 498.2,102.8 498.8,103.3 499.4,101.6 500.0,100.0 500.8,96.4 501.5,92.0 502.5,55.0 503.5,90.0 504.2,92.3 505.0,95.0 505.7,93.2 506.3,90.3 507.0,85.0 508.0,40.0 509.0,27.0 509.7,26.9 510.3,27.7 511.0,27.0 511.8,100.0 513.0,90.0 514.0,75.0 515.0,60.0 516.0,27.0 517.0,60.0 518.0,95.0 518.7,96.4 519.3,102.6 520.0,105.0 520.6,106.5 521.2,108.9 521.9,109.0 522.5,107.6 523.1,108.9 523.8,111.0 524.4,109.0 525.0,112.0 525.6,112.0 526.2,110.8 526.9,110.7 527.5,110.6 528.1,113.8 528.8,111.1 529.4,111.8 530.0,113.0 530.6,112.6 531.2,114.9 531.9,111.5 532.5,113.3 533.1,113.8 533.8,115.4 534.4,115.3 535.0,114.0 535.6,115.6 536.2,113.0 536.9,113.6 537.5,113.4 538.1,115.7 538.8,116.0 539.4,112.5 540.0,114.0 540.6,112.3 541.2,112.3 541.9,112.1 542.5,112.9 543.1,113.1 543.8,111.5 544.4,110.1 545.0,112.0 545.6,111.1 546.2,110.4 546.9,110.8 547.5,112.0 548.1,110.3 548.8,109.1 549.4,109.0 550.0,108.0 550.7,107.4 551.3,103.4 552.0,104.0 553.0,100.0 554.0,40.0 554.8,42.8 555.5,42.0 556.0,100.0 556.7,101.2 557.3,101.6 558.0,100.0 558.7,99.6 559.3,96.2 560.0,95.0 560.7,97.9 561.3,99.9 562.0,105.0 562.8,93.1 563.5,80.0 564.5,36.0 565.5,80.0 566.0,108.0 566.7,106.7 567.3,107.4 568.0,108.7 568.7,109.2 569.3,110.6 570.0,112.0 570.6,110.4 571.2,110.6 571.9,111.6 572.5,111.7 573.1,113.3 573.8,112.2 574.4,116.3 575.0,115.0 575.6,115.6 576.2,113.7 576.9,114.3 577.5,114.8 578.1,115.0 578.8,114.1 579.4,117.4 580.0,116.0 580.6,118.2 581.2,115.9 581.9,115.9 582.5,114.2 583.1,114.2 583.8,115.3 584.4,115.0 585.0,116.0 585.6,117.3 586.2,114.3 586.9,113.5 587.5,117.5 588.1,115.5 588.8,113.7 589.4,115.3 590.0,115.0 590.6,112.7 591.2,114.6 591.9,116.4 592.5,115.6 593.1,114.6 593.8,112.4 594.4,112.7 595.0,113.0 595.6,111.2 596.2,113.4 596.9,112.0 597.5,112.7 598.1,110.4 598.8,109.5 599.4,111.7 600.0,110.0 600.6,110.1 601.2,107.6 601.8,105.3 602.4,103.4 603.0,100.0 603.7,97.7 604.3,92.1 605.0,90.0 606.0,47.0 607.0,45.0 608.0,43.0 609.0,60.0 610.0,88.0 610.7,94.7 611.3,100.7 612.0,108.0 612.6,106.7 613.2,107.5 613.8,109.4 614.4,110.1 615.0,112.0 615.6,113.1 616.2,114.5 616.9,112.5 617.5,114.9 618.1,115.4 618.8,115.5 619.4,113.2 620.0,114.0 620.6,112.9 621.2,113.0 621.9,113.0 622.5,113.2 623.1,115.2 623.8,116.5 624.4,116.4 625.0,115.0 625.6,115.0 626.2,115.9 626.9,116.7 627.5,113.7 628.1,116.3 628.8,117.6 629.4,117.1 630.0,116.0 630.6,117.1 631.2,115.9 631.9,114.6 632.5,117.3 633.1,115.3 633.8,117.3 634.4,118.1 635.0,116.0 635.6,115.4 636.2,115.3 636.9,117.6 637.5,116.5 638.1,113.9 638.8,113.6 639.4,113.6 640.0,115.0 640.6,116.5 641.2,115.8 641.9,112.7 642.5,115.4 643.1,115.9 643.8,114.2 644.4,112.6 645.0,113.0 645.6,112.8 646.2,110.6 646.9,109.7 647.5,113.6 648.1,111.8 648.8,110.9 649.4,112.3 650.0,110.0 650.7,108.0 651.3,108.3 652.0,106.4 652.7,102.1 653.3,100.6 654.0,100.0 654.7,95.8 655.3,92.2 656.0,90.0 657.0,80.0 658.0,45.0 658.7,45.4 659.3,43.9 660.0,45.0 660.5,102.0" fill="none" stroke="#111" stroke-width="1.05" stroke-linejoin="round"/>
<polyline points="354.0,215.3 444.7,215.3 446.6,191.6 447.2,189.4 447.9,186.6 448.5,186.0 449.1,180.5 449.6,185.8 450.2,175.3 450.7,178.3 451.3,176.4 451.9,183.0 452.5,177.5 453.0,184.9 453.6,188.2 454.2,189.7 454.8,181.7 455.3,181.7 455.9,181.5 456.4,175.5 457.0,172.6 459.8,144.0 460.4,144.4 461.1,136.9 461.7,138.5 463.6,182.0 464.2,176.7 464.8,172.8 465.3,174.1 465.9,175.7 466.5,168.8 467.1,166.7 467.8,165.5 468.4,158.5 469.1,159.1 469.7,153.6 472.2,186.0 472.8,185.8 473.3,191.5 473.9,199.1 474.4,203.5 475.0,205.0 475.6,200.7 476.3,193.9 476.9,192.2 477.5,188.1 478.2,185.3 478.8,184.0 479.4,189.8 480.0,186.3 480.5,195.8 481.1,198.4 481.7,197.3 482.3,191.3 482.8,193.0 483.4,192.7 483.9,186.5 484.5,189.7 485.1,184.4 485.7,184.7 486.2,172.2 486.8,172.5 487.4,167.0 488.0,165.8 488.5,173.0 489.1,178.8 489.6,174.4 490.2,180.0 490.8,176.6 491.3,179.0 491.9,185.1 492.4,181.4 493.0,187.8 493.7,175.4 494.3,171.2 495.0,163.0 495.6,169.9 496.1,167.6 496.7,170.0 497.2,175.1 497.8,176.4 498.4,166.6 499.1,165.8 499.7,159.3 500.3,163.6 501.0,175.5 501.6,182.0 503.5,122.3 504.4,189.7 505.0,191.6 505.6,179.9 506.1,182.3 506.7,180.1 507.3,176.4 508.1,168.2 508.8,167.0 509.4,159.0 509.9,160.6 510.5,150.0 511.1,158.2 511.8,152.7 512.4,161.8 513.0,163.0 513.6,168.8 514.3,163.0 514.9,167.0 516.8,122.3 518.7,199.0 519.3,195.6 519.8,185.4 520.4,184.1 520.9,182.7 521.5,176.4 523.4,205.0 524.0,204.4 524.6,204.7 525.1,196.2 525.7,197.3 526.3,197.3 526.9,200.6 527.5,197.5 528.1,195.9 528.8,195.1 529.4,200.6 530.0,195.4 530.6,195.4 531.2,189.1 531.8,196.1 532.4,190.6 533.0,191.6 533.6,186.5 534.2,179.9 534.8,178.3 535.4,182.2 536.1,185.4 536.7,191.6 537.3,189.4 537.8,196.7 538.4,193.3 538.9,202.0 539.5,201.0 540.1,189.3 540.8,189.8 541.4,180.0 542.0,177.4 542.6,168.7 543.2,165.1 543.8,157.4 546.6,189.7 547.2,179.6 547.9,176.9 548.5,167.0 549.1,168.5 549.7,168.8 550.2,178.4 550.8,175.0 551.4,178.3 552.0,175.5 552.5,178.9 553.1,172.4 553.6,173.9 554.2,170.7 556.5,125.0 557.5,125.0 560.9,184.0 561.5,185.1 562.2,196.3 562.8,197.3 564.7,122.3 566.6,197.3 567.2,196.8 567.9,196.6 568.5,207.8 569.1,201.6 569.8,211.3 570.4,208.7 571.0,212.9 571.7,208.5 572.3,202.0 572.9,201.8 573.6,202.7 574.2,205.0 574.8,203.6 575.5,205.4 576.1,208.7 576.7,202.2 577.4,199.7 578.0,203.0 578.6,201.3 579.1,194.8 579.7,192.0 580.2,194.4 580.8,191.6 581.4,195.1 581.9,190.3 582.5,195.7 583.0,199.7 583.6,199.2 584.2,201.2 584.9,196.8 585.5,201.2 586.1,193.4 586.8,198.2 587.4,195.4 588.0,196.9 588.7,196.7 589.3,191.5 589.9,186.3 590.6,184.6 591.2,187.8 591.8,189.2 592.3,186.8 592.9,192.5 593.4,188.2 594.0,193.5 594.6,197.1 595.2,192.2 595.8,190.9 596.4,193.3 597.0,197.3 597.6,193.1 598.2,190.3 598.9,184.8 599.5,178.8 600.1,178.1 600.7,174.5 601.3,177.5 601.9,171.9 602.4,174.4 603.0,163.8 603.6,167.0 605.5,123.3 606.5,140.0 607.2,141.6 607.8,137.2 608.5,130.0 609.2,128.8 609.9,126.9 610.5,125.3 611.2,123.3 612.0,189.7 612.6,196.1 613.2,189.9 613.8,197.9 614.4,199.2 615.0,201.0 615.6,199.8 616.1,204.8 616.7,205.6 617.2,200.2 617.8,205.0 618.4,207.3 619.1,205.1 619.7,205.8 620.3,207.6 621.0,202.0 621.6,206.8 622.2,208.0 622.7,205.9 623.3,211.2 623.9,204.9 624.5,211.0 625.0,210.2 625.6,209.4 626.2,212.1 626.7,203.9 627.3,208.7 627.9,209.3 628.4,209.1 629.0,209.4 629.6,206.3 630.1,202.5 630.7,203.4 631.3,207.2 631.9,202.6 632.4,201.0 633.0,205.0 633.6,203.3 634.1,204.3 634.7,204.8 635.3,199.5 635.9,206.8 636.4,202.1 637.0,206.4 637.6,198.5 638.1,207.7 638.7,203.0 639.3,203.9 639.8,207.8 640.4,207.9 641.0,206.3 641.5,199.1 642.1,201.5 642.7,200.3 643.3,205.8 643.8,199.9 644.4,203.0 645.0,199.7 645.5,198.2 646.1,197.8 646.7,205.5 647.3,205.4 647.9,198.9 648.4,202.1 649.0,199.2 649.6,197.0 650.2,195.6 650.8,192.2 651.4,192.9 652.0,189.7 654.8,151.7 655.4,154.2 656.1,159.5 656.7,167.0 658.6,123.3 660.0,182.0" fill="none" stroke="#111" stroke-width="1.05" stroke-linejoin="round"/>
<line x1="353.5" y1="118.3" x2="444" y2="118.3" stroke="#777" stroke-width="1"/>
<line x1="353.5" y1="215.3" x2="444.7" y2="215.3" stroke="#777" stroke-width="1"/>
<rect x="353.5" y="23.5" width="308.0" height="195.3" fill="none" stroke="#6a8ae6" stroke-width="1.6"/>
<line x1="353.5" y1="120.8" x2="661.5" y2="120.8" stroke="#6a8ae6" stroke-width="1.3"/>
<text x="295" y="23" font-family="Liberation Sans" font-size="17.5" fill="#111">(b)</text>
<text transform="translate(343.6,70.5) rotate(-90)" text-anchor="middle" font-family="Liberation Sans" font-size="14.5" fill="#111" textLength="58" lengthAdjust="spacingAndGlyphs">[<tspan font-family="Liberation Serif" font-style="italic">R</tspan>(A)<tspan dy="-3.5" font-size="10">2</tspan><tspan dy="3.5">]</tspan><tspan dy="-5" font-size="13">*</tspan></text>
<text transform="translate(343.6,168) rotate(-90)" text-anchor="middle" font-family="Liberation Sans" font-weight="bold" font-size="16.5" fill="#111">[L]<tspan dy="-1.8">*</tspan></text>
<text x="453.50 460.94 468.38 475.82 483.26 490.70 498.14 505.58 520.46 527.90 535.34 542.78 550.22 557.66 565.10 572.54 579.98" y="234.8" text-anchor="middle" font-family="Liberation Mono" font-size="12.4" fill="#1a1a1a" stroke="#1a1a1a" stroke-width="0.1">snapshottime-step</text>
<line x1="376.8" y1="280.0" x2="376.8" y2="368.0" stroke="#e8302a" stroke-width="1" stroke-dasharray="3.5,2" stroke-dashoffset="4.4" opacity="0.6"/>
<line x1="380.3" y1="277.0" x2="380.3" y2="374.3" stroke="#e8302a" stroke-width="1" stroke-dasharray="3.5,2" stroke-dashoffset="4.5" opacity="0.6"/>
<line x1="383.8" y1="289.5" x2="383.8" y2="386.6" stroke="#e8302a" stroke-width="1" stroke-dasharray="3.5,2" stroke-dashoffset="0.5" opacity="0.6"/>
<line x1="387.5" y1="289.1" x2="387.5" y2="396.4" stroke="#e8302a" stroke-width="1" stroke-dasharray="3.5,2" stroke-dashoffset="4.7" opacity="0.6"/>
<line x1="391.3" y1="282.7" x2="391.3" y2="375.7" stroke="#e8302a" stroke-width="1" stroke-dasharray="3.5,2" stroke-dashoffset="1.9" opacity="0.6"/>
<line x1="395.3" y1="297.0" x2="395.3" y2="385.8" stroke="#e8302a" stroke-width="1" stroke-dasharray="3.5,2" stroke-dashoffset="3.9" opacity="0.6"/>
<line x1="399.4" y1="294.5" x2="399.4" y2="393.5" stroke="#e8302a" stroke-width="1" stroke-dasharray="3.5,2" stroke-dashoffset="3.8" opacity="0.6"/>
<line x1="403.8" y1="305.5" x2="403.8" y2="397.4" stroke="#e8302a" stroke-width="1" stroke-dasharray="3.5,2" stroke-dashoffset="1.5" opacity="0.6"/>
<line x1="408.3" y1="305.5" x2="408.3" y2="369.1" stroke="#e8302a" stroke-width="1" stroke-dasharray="3.5,2" stroke-dashoffset="3.4" opacity="0.6"/>
<line x1="413.0" y1="306.8" x2="413.0" y2="402.4" stroke="#e8302a" stroke-width="1" stroke-dasharray="3.5,2" stroke-dashoffset="3.3" opacity="0.6"/>
<line x1="417.9" y1="307.1" x2="417.9" y2="414.6" stroke="#e8302a" stroke-width="1" stroke-dasharray="3.5,2" stroke-dashoffset="4.0" opacity="0.6"/>
<line x1="423.1" y1="310.1" x2="423.1" y2="398.2" stroke="#e8302a" stroke-width="1" stroke-dasharray="3.5,2" stroke-dashoffset="1.3" opacity="0.6"/>
<line x1="428.6" y1="313.5" x2="428.6" y2="388.0" stroke="#e8302a" stroke-width="1" stroke-dasharray="3.5,2" stroke-dashoffset="3.8" opacity="0.6"/>
<line x1="434.4" y1="329.0" x2="434.4" y2="428.0" stroke="#e8302a" stroke-width="1" stroke-dasharray="3.5,2" stroke-dashoffset="4.8" opacity="0.6"/>
<line x1="440.5" y1="327.6" x2="440.5" y2="405.5" stroke="#e8302a" stroke-width="1" stroke-dasharray="3.5,2" stroke-dashoffset="3.4" opacity="0.6"/>
<line x1="447.1" y1="337.0" x2="447.1" y2="412.5" stroke="#e8302a" stroke-width="1" stroke-dasharray="3.5,2" stroke-dashoffset="2.7" opacity="0.6"/>
<line x1="454.1" y1="339.7" x2="454.1" y2="439.5" stroke="#e8302a" stroke-width="1" stroke-dasharray="3.5,2" stroke-dashoffset="0.6" opacity="0.6"/>
<line x1="461.6" y1="340.6" x2="461.6" y2="443.0" stroke="#e8302a" stroke-width="1" stroke-dasharray="3.5,2" stroke-dashoffset="2.5" opacity="0.6"/>
<line x1="469.7" y1="351.6" x2="469.7" y2="422.7" stroke="#e8302a" stroke-width="1" stroke-dasharray="3.5,2" stroke-dashoffset="1.8" opacity="0.6"/>
<line x1="478.5" y1="354.3" x2="478.5" y2="456.9" stroke="#e8302a" stroke-width="1" stroke-dasharray="3.5,2" stroke-dashoffset="3.6" opacity="0.6"/>
<line x1="488.2" y1="366.5" x2="488.2" y2="438.8" stroke="#e8302a" stroke-width="1" stroke-dasharray="3.5,2" stroke-dashoffset="3.4" opacity="0.6"/>
<line x1="498.8" y1="377.8" x2="498.8" y2="449.6" stroke="#e8302a" stroke-width="1" stroke-dasharray="3.5,2" stroke-dashoffset="2.8" opacity="0.6"/>
<line x1="510.8" y1="383.4" x2="510.8" y2="482.7" stroke="#e8302a" stroke-width="1" stroke-dasharray="3.5,2" stroke-dashoffset="0.9" opacity="0.6"/>
<line x1="524.3" y1="395.7" x2="524.3" y2="473.3" stroke="#e8302a" stroke-width="1" stroke-dasharray="3.5,2" stroke-dashoffset="3.2" opacity="0.6"/>
<line x1="539.9" y1="417.0" x2="539.9" y2="496.3" stroke="#e8302a" stroke-width="1" stroke-dasharray="3.5,2" stroke-dashoffset="3.2" opacity="0.6"/>
<line x1="558.4" y1="436.6" x2="558.4" y2="505.1" stroke="#e8302a" stroke-width="1" stroke-dasharray="3.5,2" stroke-dashoffset="0.9" opacity="0.6"/>
<line x1="581.0" y1="444.9" x2="581.0" y2="513.9" stroke="#e8302a" stroke-width="1" stroke-dasharray="3.5,2" stroke-dashoffset="4.4" opacity="0.6"/>
<line x1="610.1" y1="465.4" x2="610.1" y2="540.5" stroke="#e8302a" stroke-width="1" stroke-dasharray="3.5,2" stroke-dashoffset="3.3" opacity="0.6"/>
<line x1="651.2" y1="510.9" x2="651.2" y2="552.0" stroke="#e8302a" stroke-width="1" stroke-dasharray="3.5,2" stroke-dashoffset="0.6" opacity="0.6"/>
<line x1="377.0" y1="273.4" x2="377.0" y2="336.4" stroke="#2a8f2a" stroke-width="1" stroke-dasharray="3.5,2" stroke-dashoffset="4.7" opacity="0.6"/>
<line x1="380.5" y1="271.3" x2="380.5" y2="337.3" stroke="#2a8f2a" stroke-width="1" stroke-dasharray="3.5,2" stroke-dashoffset="0.7" opacity="0.6"/>
<line x1="384.0" y1="276.8" x2="384.0" y2="346.0" stroke="#2a8f2a" stroke-width="1" stroke-dasharray="3.5,2" stroke-dashoffset="1.7" opacity="0.6"/>
<line x1="387.7" y1="273.8" x2="387.7" y2="351.2" stroke="#2a8f2a" stroke-width="1" stroke-dasharray="3.5,2" stroke-dashoffset="3.6" opacity="0.6"/>
<line x1="391.5" y1="274.9" x2="391.5" y2="364.0" stroke="#2a8f2a" stroke-width="1" stroke-dasharray="3.5,2" stroke-dashoffset="3.0" opacity="0.6"/>
<line x1="395.5" y1="277.5" x2="395.5" y2="365.9" stroke="#2a8f2a" stroke-width="1" stroke-dasharray="3.5,2" stroke-dashoffset="2.8" opacity="0.6"/>
<line x1="399.6" y1="281.7" x2="399.6" y2="361.9" stroke="#2a8f2a" stroke-width="1" stroke-dasharray="3.5,2" stroke-dashoffset="3.2" opacity="0.6"/>
<line x1="404.0" y1="289.4" x2="404.0" y2="360.3" stroke="#2a8f2a" stroke-width="1" stroke-dasharray="3.5,2" stroke-dashoffset="2.3" opacity="0.6"/>
<line x1="408.5" y1="288.5" x2="408.5" y2="372.6" stroke="#2a8f2a" stroke-width="1" stroke-dasharray="3.5,2" stroke-dashoffset="1.6" opacity="0.6"/>
<line x1="413.2" y1="294.0" x2="413.2" y2="377.1" stroke="#2a8f2a" stroke-width="1" stroke-dasharray="3.5,2" stroke-dashoffset="0.9" opacity="0.6"/>
<line x1="418.1" y1="294.7" x2="418.1" y2="382.5" stroke="#2a8f2a" stroke-width="1" stroke-dasharray="3.5,2" stroke-dashoffset="0.3" opacity="0.6"/>
<line x1="423.3" y1="298.7" x2="423.3" y2="380.4" stroke="#2a8f2a" stroke-width="1" stroke-dasharray="3.5,2" stroke-dashoffset="3.6" opacity="0.6"/>
<line x1="428.8" y1="307.5" x2="428.8" y2="392.7" stroke="#2a8f2a" stroke-width="1" stroke-dasharray="3.5,2" stroke-dashoffset="3.8" opacity="0.6"/>
<line x1="434.6" y1="317.5" x2="434.6" y2="374.7" stroke="#2a8f2a" stroke-width="1" stroke-dasharray="3.5,2" stroke-dashoffset="2.7" opacity="0.6"/>
<line x1="440.7" y1="307.3" x2="440.7" y2="385.8" stroke="#2a8f2a" stroke-width="1" stroke-dasharray="3.5,2" stroke-dashoffset="3.7" opacity="0.6"/>
<line x1="447.3" y1="318.5" x2="447.3" y2="392.9" stroke="#2a8f2a" stroke-width="1" stroke-dasharray="3.5,2" stroke-dashoffset="1.8" opacity="0.6"/>
<line x1="454.3" y1="328.6" x2="454.3" y2="399.7" stroke="#2a8f2a" stroke-width="1" stroke-dasharray="3.5,2" stroke-dashoffset="1.3" opacity="0.6"/>
<line x1="461.8" y1="334.8" x2="461.8" y2="405.5" stroke="#2a8f2a" stroke-width="1" stroke-dasharray="3.5,2" stroke-dashoffset="1.9" opacity="0.6"/>
<line x1="469.9" y1="345.7" x2="469.9" y2="417.5" stroke="#2a8f2a" stroke-width="1" stroke-dasharray="3.5,2" stroke-dashoffset="4.4" opacity="0.6"/>
<line x1="478.7" y1="348.2" x2="478.7" y2="413.1" stroke="#2a8f2a" stroke-width="1" stroke-dasharray="3.5,2" stroke-dashoffset="0.2" opacity="0.6"/>
<line x1="488.4" y1="357.1" x2="488.4" y2="419.2" stroke="#2a8f2a" stroke-width="1" stroke-dasharray="3.5,2" stroke-dashoffset="2.5" opacity="0.6"/>
<line x1="499.0" y1="358.3" x2="499.0" y2="424.7" stroke="#2a8f2a" stroke-width="1" stroke-dasharray="3.5,2" stroke-dashoffset="1.2" opacity="0.6"/>
<line x1="511.0" y1="373.8" x2="511.0" y2="454.5" stroke="#2a8f2a" stroke-width="1" stroke-dasharray="3.5,2" stroke-dashoffset="3.8" opacity="0.6"/>
<line x1="524.5" y1="376.3" x2="524.5" y2="445.7" stroke="#2a8f2a" stroke-width="1" stroke-dasharray="3.5,2" stroke-dashoffset="1.8" opacity="0.6"/>
<line x1="540.1" y1="392.1" x2="540.1" y2="476.2" stroke="#2a8f2a" stroke-width="1" stroke-dasharray="3.5,2" stroke-dashoffset="1.7" opacity="0.6"/>
<line x1="558.6" y1="413.7" x2="558.6" y2="470.1" stroke="#2a8f2a" stroke-width="1" stroke-dasharray="3.5,2" stroke-dashoffset="2.0" opacity="0.6"/>
<line x1="581.2" y1="432.4" x2="581.2" y2="502.9" stroke="#2a8f2a" stroke-width="1" stroke-dasharray="3.5,2" stroke-dashoffset="2.7" opacity="0.6"/>
<line x1="610.3" y1="455.9" x2="610.3" y2="512.3" stroke="#2a8f2a" stroke-width="1" stroke-dasharray="3.5,2" stroke-dashoffset="3.9" opacity="0.6"/>
<line x1="651.4" y1="481.5" x2="651.4" y2="552.0" stroke="#2a8f2a" stroke-width="1" stroke-dasharray="3.5,2" stroke-dashoffset="1.8" opacity="0.6"/>
<line x1="377.2" y1="275.8" x2="377.2" y2="330.3" stroke="#3352ee" stroke-width="1" stroke-dasharray="3.5,2" stroke-dashoffset="4.2" opacity="0.6"/>
<line x1="380.7" y1="273.5" x2="380.7" y2="334.5" stroke="#3352ee" stroke-width="1" stroke-dasharray="3.5,2" stroke-dashoffset="0.6" opacity="0.6"/>
<line x1="384.2" y1="276.5" x2="384.2" y2="339.1" stroke="#3352ee" stroke-width="1" stroke-dasharray="3.5,2" stroke-dashoffset="1.4" opacity="0.6"/>
<line x1="387.9" y1="276.7" x2="387.9" y2="328.3" stroke="#3352ee" stroke-width="1" stroke-dasharray="3.5,2" stroke-dashoffset="0.5" opacity="0.6"/>
<line x1="391.7" y1="273.6" x2="391.7" y2="363.0" stroke="#3352ee" stroke-width="1" stroke-dasharray="3.5,2" stroke-dashoffset="0.6" opacity="0.6"/>
<line x1="395.7" y1="272.3" x2="395.7" y2="363.7" stroke="#3352ee" stroke-width="1" stroke-dasharray="3.5,2" stroke-dashoffset="3.9" opacity="0.6"/>
<line x1="399.8" y1="275.0" x2="399.8" y2="363.5" stroke="#3352ee" stroke-width="1" stroke-dasharray="3.5,2" stroke-dashoffset="3.6" opacity="0.6"/>
<line x1="404.2" y1="277.4" x2="404.2" y2="349.0" stroke="#3352ee" stroke-width="1" stroke-dasharray="3.5,2" stroke-dashoffset="0.9" opacity="0.6"/>
<line x1="408.7" y1="285.5" x2="408.7" y2="345.1" stroke="#3352ee" stroke-width="1" stroke-dasharray="3.5,2" stroke-dashoffset="0.9" opacity="0.6"/>
<line x1="413.4" y1="288.0" x2="413.4" y2="371.6" stroke="#3352ee" stroke-width="1" stroke-dasharray="3.5,2" stroke-dashoffset="2.1" opacity="0.6"/>
<line x1="418.3" y1="281.9" x2="418.3" y2="371.3" stroke="#3352ee" stroke-width="1" stroke-dasharray="3.5,2" stroke-dashoffset="3.7" opacity="0.6"/>
<line x1="423.5" y1="285.9" x2="423.5" y2="381.0" stroke="#3352ee" stroke-width="1" stroke-dasharray="3.5,2" stroke-dashoffset="4.1" opacity="0.6"/>
<line x1="429.0" y1="304.1" x2="429.0" y2="380.0" stroke="#3352ee" stroke-width="1" stroke-dasharray="3.5,2" stroke-dashoffset="3.7" opacity="0.6"/>
<line x1="434.8" y1="303.8" x2="434.8" y2="381.4" stroke="#3352ee" stroke-width="1" stroke-dasharray="3.5,2" stroke-dashoffset="3.0" opacity="0.6"/>
<line x1="440.9" y1="306.6" x2="440.9" y2="393.6" stroke="#3352ee" stroke-width="1" stroke-dasharray="3.5,2" stroke-dashoffset="0.7" opacity="0.6"/>
<line x1="447.5" y1="312.6" x2="447.5" y2="378.0" stroke="#3352ee" stroke-width="1" stroke-dasharray="3.5,2" stroke-dashoffset="2.0" opacity="0.6"/>
<line x1="454.5" y1="315.7" x2="454.5" y2="398.0" stroke="#3352ee" stroke-width="1" stroke-dasharray="3.5,2" stroke-dashoffset="1.0" opacity="0.6"/>
<line x1="462.0" y1="325.8" x2="462.0" y2="396.0" stroke="#3352ee" stroke-width="1" stroke-dasharray="3.5,2" stroke-dashoffset="2.6" opacity="0.6"/>
<line x1="470.1" y1="332.2" x2="470.1" y2="408.6" stroke="#3352ee" stroke-width="1" stroke-dasharray="3.5,2" stroke-dashoffset="2.8" opacity="0.6"/>
<line x1="478.9" y1="328.7" x2="478.9" y2="415.3" stroke="#3352ee" stroke-width="1" stroke-dasharray="3.5,2" stroke-dashoffset="1.0" opacity="0.6"/>
<line x1="488.6" y1="338.7" x2="488.6" y2="422.6" stroke="#3352ee" stroke-width="1" stroke-dasharray="3.5,2" stroke-dashoffset="1.3" opacity="0.6"/>
<line x1="499.2" y1="352.4" x2="499.2" y2="414.6" stroke="#3352ee" stroke-width="1" stroke-dasharray="3.5,2" stroke-dashoffset="3.9" opacity="0.6"/>
<line x1="511.2" y1="358.9" x2="511.2" y2="427.9" stroke="#3352ee" stroke-width="1" stroke-dasharray="3.5,2" stroke-dashoffset="0.2" opacity="0.6"/>
<line x1="524.7" y1="375.7" x2="524.7" y2="427.3" stroke="#3352ee" stroke-width="1" stroke-dasharray="3.5,2" stroke-dashoffset="4.0" opacity="0.6"/>
<line x1="540.3" y1="385.4" x2="540.3" y2="438.7" stroke="#3352ee" stroke-width="1" stroke-dasharray="3.5,2" stroke-dashoffset="4.5" opacity="0.6"/>
<line x1="558.8" y1="387.6" x2="558.8" y2="452.2" stroke="#3352ee" stroke-width="1" stroke-dasharray="3.5,2" stroke-dashoffset="4.7" opacity="0.6"/>
<line x1="581.4" y1="413.1" x2="581.4" y2="472.8" stroke="#3352ee" stroke-width="1" stroke-dasharray="3.5,2" stroke-dashoffset="1.9" opacity="0.6"/>
<line x1="610.5" y1="429.5" x2="610.5" y2="497.9" stroke="#3352ee" stroke-width="1" stroke-dasharray="3.5,2" stroke-dashoffset="2.8" opacity="0.6"/>
<line x1="651.6" y1="467.5" x2="651.6" y2="521.7" stroke="#3352ee" stroke-width="1" stroke-dasharray="3.5,2" stroke-dashoffset="2.9" opacity="0.6"/>
<line x1="377.4" y1="273.3" x2="377.4" y2="338.9" stroke="#ff8533" stroke-width="1" stroke-dasharray="3.5,2" stroke-dashoffset="3.2" opacity="0.6"/>
<line x1="380.9" y1="273.2" x2="380.9" y2="325.2" stroke="#ff8533" stroke-width="1" stroke-dasharray="3.5,2" stroke-dashoffset="4.9" opacity="0.6"/>
<line x1="384.4" y1="273.3" x2="384.4" y2="345.3" stroke="#ff8533" stroke-width="1" stroke-dasharray="3.5,2" stroke-dashoffset="3.4" opacity="0.6"/>
<line x1="388.1" y1="273.6" x2="388.1" y2="342.9" stroke="#ff8533" stroke-width="1" stroke-dasharray="3.5,2" stroke-dashoffset="1.5" opacity="0.6"/>
<line x1="391.9" y1="275.2" x2="391.9" y2="341.6" stroke="#ff8533" stroke-width="1" stroke-dasharray="3.5,2" stroke-dashoffset="4.3" opacity="0.6"/>
<line x1="395.9" y1="273.8" x2="395.9" y2="349.9" stroke="#ff8533" stroke-width="1" stroke-dasharray="3.5,2" stroke-dashoffset="2.4" opacity="0.6"/>
<line x1="400.0" y1="275.2" x2="400.0" y2="348.0" stroke="#ff8533" stroke-width="1" stroke-dasharray="3.5,2" stroke-dashoffset="3.0" opacity="0.6"/>
<line x1="404.4" y1="279.1" x2="404.4" y2="347.6" stroke="#ff8533" stroke-width="1" stroke-dasharray="3.5,2" stroke-dashoffset="3.6" opacity="0.6"/>
<line x1="408.9" y1="273.2" x2="408.9" y2="364.8" stroke="#ff8533" stroke-width="1" stroke-dasharray="3.5,2" stroke-dashoffset="0.0" opacity="0.6"/>
<line x1="413.6" y1="272.6" x2="413.6" y2="363.6" stroke="#ff8533" stroke-width="1" stroke-dasharray="3.5,2" stroke-dashoffset="3.9" opacity="0.6"/>
<line x1="418.5" y1="281.9" x2="418.5" y2="348.4" stroke="#ff8533" stroke-width="1" stroke-dasharray="3.5,2" stroke-dashoffset="3.3" opacity="0.6"/>
<line x1="423.7" y1="281.9" x2="423.7" y2="372.5" stroke="#ff8533" stroke-width="1" stroke-dasharray="3.5,2" stroke-dashoffset="2.5" opacity="0.6"/>
<line x1="429.2" y1="285.6" x2="429.2" y2="371.8" stroke="#ff8533" stroke-width="1" stroke-dasharray="3.5,2" stroke-dashoffset="2.6" opacity="0.6"/>
<line x1="435.0" y1="299.8" x2="435.0" y2="371.6" stroke="#ff8533" stroke-width="1" stroke-dasharray="3.5,2" stroke-dashoffset="2.3" opacity="0.6"/>
<line x1="441.1" y1="303.3" x2="441.1" y2="380.3" stroke="#ff8533" stroke-width="1" stroke-dasharray="3.5,2" stroke-dashoffset="1.0" opacity="0.6"/>
<line x1="447.7" y1="308.8" x2="447.7" y2="367.1" stroke="#ff8533" stroke-width="1" stroke-dasharray="3.5,2" stroke-dashoffset="2.6" opacity="0.6"/>
<line x1="454.7" y1="312.1" x2="454.7" y2="369.8" stroke="#ff8533" stroke-width="1" stroke-dasharray="3.5,2" stroke-dashoffset="0.2" opacity="0.6"/>
<line x1="462.2" y1="318.3" x2="462.2" y2="395.1" stroke="#ff8533" stroke-width="1" stroke-dasharray="3.5,2" stroke-dashoffset="2.5" opacity="0.6"/>
<line x1="470.3" y1="311.1" x2="470.3" y2="402.8" stroke="#ff8533" stroke-width="1" stroke-dasharray="3.5,2" stroke-dashoffset="3.2" opacity="0.6"/>
<line x1="479.1" y1="317.9" x2="479.1" y2="386.4" stroke="#ff8533" stroke-width="1" stroke-dasharray="3.5,2" stroke-dashoffset="2.2" opacity="0.6"/>
<line x1="488.8" y1="329.8" x2="488.8" y2="408.6" stroke="#ff8533" stroke-width="1" stroke-dasharray="3.5,2" stroke-dashoffset="2.8" opacity="0.6"/>
<line x1="499.4" y1="332.9" x2="499.4" y2="420.2" stroke="#ff8533" stroke-width="1" stroke-dasharray="3.5,2" stroke-dashoffset="4.8" opacity="0.6"/>
<line x1="511.4" y1="348.8" x2="511.4" y2="419.4" stroke="#ff8533" stroke-width="1" stroke-dasharray="3.5,2" stroke-dashoffset="4.5" opacity="0.6"/>
<line x1="524.9" y1="359.7" x2="524.9" y2="420.0" stroke="#ff8533" stroke-width="1" stroke-dasharray="3.5,2" stroke-dashoffset="0.7" opacity="0.6"/>
<line x1="540.5" y1="363.8" x2="540.5" y2="441.8" stroke="#ff8533" stroke-width="1" stroke-dasharray="3.5,2" stroke-dashoffset="4.0" opacity="0.6"/>
<line x1="559.0" y1="381.1" x2="559.0" y2="446.5" stroke="#ff8533" stroke-width="1" stroke-dasharray="3.5,2" stroke-dashoffset="3.1" opacity="0.6"/>
<line x1="581.6" y1="395.9" x2="581.6" y2="455.5" stroke="#ff8533" stroke-width="1" stroke-dasharray="3.5,2" stroke-dashoffset="0.3" opacity="0.6"/>
<line x1="610.7" y1="406.2" x2="610.7" y2="480.1" stroke="#ff8533" stroke-width="1" stroke-dasharray="3.5,2" stroke-dashoffset="1.8" opacity="0.6"/>
<line x1="651.8" y1="449.3" x2="651.8" y2="510.4" stroke="#ff8533" stroke-width="1" stroke-dasharray="3.5,2" stroke-dashoffset="1.2" opacity="0.6"/>
<line x1="377.6" y1="273.9" x2="377.6" y2="337.8" stroke="#e07ad8" stroke-width="1" stroke-dasharray="3.5,2" stroke-dashoffset="0.4" opacity="0.6"/>
<line x1="381.1" y1="271.9" x2="381.1" y2="349.6" stroke="#e07ad8" stroke-width="1" stroke-dasharray="3.5,2" stroke-dashoffset="2.7" opacity="0.6"/>
<line x1="384.6" y1="276.5" x2="384.6" y2="347.8" stroke="#e07ad8" stroke-width="1" stroke-dasharray="3.5,2" stroke-dashoffset="4.6" opacity="0.6"/>
<line x1="388.3" y1="275.3" x2="388.3" y2="342.1" stroke="#e07ad8" stroke-width="1" stroke-dasharray="3.5,2" stroke-dashoffset="1.6" opacity="0.6"/>
<line x1="392.1" y1="272.2" x2="392.1" y2="339.8" stroke="#e07ad8" stroke-width="1" stroke-dasharray="3.5,2" stroke-dashoffset="4.4" opacity="0.6"/>
<line x1="396.1" y1="272.4" x2="396.1" y2="343.4" stroke="#e07ad8" stroke-width="1" stroke-dasharray="3.5,2" stroke-dashoffset="3.5" opacity="0.6"/>
<line x1="400.2" y1="272.8" x2="400.2" y2="361.7" stroke="#e07ad8" stroke-width="1" stroke-dasharray="3.5,2" stroke-dashoffset="0.7" opacity="0.6"/>
<line x1="404.6" y1="276.1" x2="404.6" y2="350.7" stroke="#e07ad8" stroke-width="1" stroke-dasharray="3.5,2" stroke-dashoffset="4.3" opacity="0.6"/>
<line x1="409.1" y1="274.5" x2="409.1" y2="349.8" stroke="#e07ad8" stroke-width="1" stroke-dasharray="3.5,2" stroke-dashoffset="3.0" opacity="0.6"/>
<line x1="413.8" y1="287.5" x2="413.8" y2="357.7" stroke="#e07ad8" stroke-width="1" stroke-dasharray="3.5,2" stroke-dashoffset="4.6" opacity="0.6"/>
<line x1="418.7" y1="287.9" x2="418.7" y2="357.7" stroke="#e07ad8" stroke-width="1" stroke-dasharray="3.5,2" stroke-dashoffset="3.6" opacity="0.6"/>
<line x1="423.9" y1="280.3" x2="423.9" y2="355.6" stroke="#e07ad8" stroke-width="1" stroke-dasharray="3.5,2" stroke-dashoffset="3.7" opacity="0.6"/>
<line x1="429.4" y1="289.0" x2="429.4" y2="369.5" stroke="#e07ad8" stroke-width="1" stroke-dasharray="3.5,2" stroke-dashoffset="1.7" opacity="0.6"/>
<line x1="435.2" y1="286.2" x2="435.2" y2="378.0" stroke="#e07ad8" stroke-width="1" stroke-dasharray="3.5,2" stroke-dashoffset="4.0" opacity="0.6"/>
<line x1="441.3" y1="296.4" x2="441.3" y2="379.1" stroke="#e07ad8" stroke-width="1" stroke-dasharray="3.5,2" stroke-dashoffset="4.7" opacity="0.6"/>
<line x1="447.9" y1="302.0" x2="447.9" y2="383.1" stroke="#e07ad8" stroke-width="1" stroke-dasharray="3.5,2" stroke-dashoffset="4.3" opacity="0.6"/>
<line x1="454.9" y1="305.1" x2="454.9" y2="376.0" stroke="#e07ad8" stroke-width="1" stroke-dasharray="3.5,2" stroke-dashoffset="2.2" opacity="0.6"/>
<line x1="462.4" y1="305.3" x2="462.4" y2="390.1" stroke="#e07ad8" stroke-width="1" stroke-dasharray="3.5,2" stroke-dashoffset="3.8" opacity="0.6"/>
<line x1="470.5" y1="307.9" x2="470.5" y2="385.5" stroke="#e07ad8" stroke-width="1" stroke-dasharray="3.5,2" stroke-dashoffset="2.4" opacity="0.6"/>
<line x1="479.3" y1="324.1" x2="479.3" y2="389.5" stroke="#e07ad8" stroke-width="1" stroke-dasharray="3.5,2" stroke-dashoffset="0.5" opacity="0.6"/>
<line x1="489.0" y1="319.3" x2="489.0" y2="409.7" stroke="#e07ad8" stroke-width="1" stroke-dasharray="3.5,2" stroke-dashoffset="0.2" opacity="0.6"/>
<line x1="499.6" y1="325.9" x2="499.6" y2="404.1" stroke="#e07ad8" stroke-width="1" stroke-dasharray="3.5,2" stroke-dashoffset="0.4" opacity="0.6"/>
<line x1="511.6" y1="335.8" x2="511.6" y2="406.8" stroke="#e07ad8" stroke-width="1" stroke-dasharray="3.5,2" stroke-dashoffset="1.0" opacity="0.6"/>
<line x1="525.1" y1="342.3" x2="525.1" y2="418.7" stroke="#e07ad8" stroke-width="1" stroke-dasharray="3.5,2" stroke-dashoffset="0.8" opacity="0.6"/>
<line x1="540.7" y1="356.6" x2="540.7" y2="434.6" stroke="#e07ad8" stroke-width="1" stroke-dasharray="3.5,2" stroke-dashoffset="2.5" opacity="0.6"/>
<line x1="559.2" y1="372.5" x2="559.2" y2="441.1" stroke="#e07ad8" stroke-width="1" stroke-dasharray="3.5,2" stroke-dashoffset="3.5" opacity="0.6"/>
<line x1="581.8" y1="388.9" x2="581.8" y2="456.6" stroke="#e07ad8" stroke-width="1" stroke-dasharray="3.5,2" stroke-dashoffset="2.7" opacity="0.6"/>
<line x1="610.9" y1="403.8" x2="610.9" y2="472.7" stroke="#e07ad8" stroke-width="1" stroke-dasharray="3.5,2" stroke-dashoffset="2.1" opacity="0.6"/>
<line x1="652.0" y1="431.5" x2="652.0" y2="497.8" stroke="#e07ad8" stroke-width="1" stroke-dasharray="3.5,2" stroke-dashoffset="3.2" opacity="0.6"/>
<line x1="373.4" y1="280.0" x2="380.2" y2="280.0" stroke="#e8302a" stroke-width="1.4" opacity="0.75"/>
<line x1="373.4" y1="368.0" x2="380.2" y2="368.0" stroke="#e8302a" stroke-width="1.4" opacity="0.75"/>
<line x1="376.9" y1="277.0" x2="383.7" y2="277.0" stroke="#e8302a" stroke-width="1.4" opacity="0.75"/>
<line x1="376.9" y1="374.3" x2="383.7" y2="374.3" stroke="#e8302a" stroke-width="1.4" opacity="0.75"/>
<line x1="380.4" y1="289.5" x2="387.2" y2="289.5" stroke="#e8302a" stroke-width="1.4" opacity="0.75"/>
<line x1="380.4" y1="386.6" x2="387.2" y2="386.6" stroke="#e8302a" stroke-width="1.4" opacity="0.75"/>
<line x1="384.1" y1="289.1" x2="390.9" y2="289.1" stroke="#e8302a" stroke-width="1.4" opacity="0.75"/>
<line x1="384.1" y1="396.4" x2="390.9" y2="396.4" stroke="#e8302a" stroke-width="1.4" opacity="0.75"/>
<line x1="387.9" y1="282.7" x2="394.7" y2="282.7" stroke="#e8302a" stroke-width="1.4" opacity="0.75"/>
<line x1="387.9" y1="375.7" x2="394.7" y2="375.7" stroke="#e8302a" stroke-width="1.4" opacity="0.75"/>
<line x1="391.9" y1="297.0" x2="398.7" y2="297.0" stroke="#e8302a" stroke-width="1.4" opacity="0.75"/>
<line x1="391.9" y1="385.8" x2="398.7" y2="385.8" stroke="#e8302a" stroke-width="1.4" opacity="0.75"/>
<line x1="396.0" y1="294.5" x2="402.8" y2="294.5" stroke="#e8302a" stroke-width="1.4" opacity="0.75"/>
<line x1="396.0" y1="393.5" x2="402.8" y2="393.5" stroke="#e8302a" stroke-width="1.4" opacity="0.75"/>
<line x1="400.4" y1="305.5" x2="407.2" y2="305.5" stroke="#e8302a" stroke-width="1.4" opacity="0.75"/>
<line x1="400.4" y1="397.4" x2="407.2" y2="397.4" stroke="#e8302a" stroke-width="1.4" opacity="0.75"/>
<line x1="404.9" y1="305.5" x2="411.7" y2="305.5" stroke="#e8302a" stroke-width="1.4" opacity="0.75"/>
<line x1="404.9" y1="369.1" x2="411.7" y2="369.1" stroke="#e8302a" stroke-width="1.4" opacity="0.75"/>
<line x1="409.6" y1="306.8" x2="416.4" y2="306.8" stroke="#e8302a" stroke-width="1.4" opacity="0.75"/>
<line x1="409.6" y1="402.4" x2="416.4" y2="402.4" stroke="#e8302a" stroke-width="1.4" opacity="0.75"/>
<line x1="414.5" y1="307.1" x2="421.3" y2="307.1" stroke="#e8302a" stroke-width="1.4" opacity="0.75"/>
<line x1="414.5" y1="414.6" x2="421.3" y2="414.6" stroke="#e8302a" stroke-width="1.4" opacity="0.75"/>
<line x1="419.7" y1="310.1" x2="426.5" y2="310.1" stroke="#e8302a" stroke-width="1.4" opacity="0.75"/>
<line x1="419.7" y1="398.2" x2="426.5" y2="398.2" stroke="#e8302a" stroke-width="1.4" opacity="0.75"/>
<line x1="425.2" y1="313.5" x2="432.0" y2="313.5" stroke="#e8302a" stroke-width="1.4" opacity="0.75"/>
<line x1="425.2" y1="388.0" x2="432.0" y2="388.0" stroke="#e8302a" stroke-width="1.4" opacity="0.75"/>
<line x1="431.0" y1="329.0" x2="437.8" y2="329.0" stroke="#e8302a" stroke-width="1.4" opacity="0.75"/>
<line x1="431.0" y1="428.0" x2="437.8" y2="428.0" stroke="#e8302a" stroke-width="1.4" opacity="0.75"/>
<line x1="437.1" y1="327.6" x2="443.9" y2="327.6" stroke="#e8302a" stroke-width="1.4" opacity="0.75"/>
<line x1="437.1" y1="405.5" x2="443.9" y2="405.5" stroke="#e8302a" stroke-width="1.4" opacity="0.75"/>
<line x1="443.7" y1="337.0" x2="450.5" y2="337.0" stroke="#e8302a" stroke-width="1.4" opacity="0.75"/>
<line x1="443.7" y1="412.5" x2="450.5" y2="412.5" stroke="#e8302a" stroke-width="1.4" opacity="0.75"/>
<line x1="450.7" y1="339.7" x2="457.5" y2="339.7" stroke="#e8302a" stroke-width="1.4" opacity="0.75"/>
<line x1="450.7" y1="439.5" x2="457.5" y2="439.5" stroke="#e8302a" stroke-width="1.4" opacity="0.75"/>
<line x1="458.2" y1="340.6" x2="465.0" y2="340.6" stroke="#e8302a" stroke-width="1.4" opacity="0.75"/>
<line x1="458.2" y1="443.0" x2="465.0" y2="443.0" stroke="#e8302a" stroke-width="1.4" opacity="0.75"/>
<line x1="466.3" y1="351.6" x2="473.1" y2="351.6" stroke="#e8302a" stroke-width="1.4" opacity="0.75"/>
<line x1="466.3" y1="422.7" x2="473.1" y2="422.7" stroke="#e8302a" stroke-width="1.4" opacity="0.75"/>
<line x1="475.1" y1="354.3" x2="481.9" y2="354.3" stroke="#e8302a" stroke-width="1.4" opacity="0.75"/>
<line x1="475.1" y1="456.9" x2="481.9" y2="456.9" stroke="#e8302a" stroke-width="1.4" opacity="0.75"/>
<line x1="484.8" y1="366.5" x2="491.6" y2="366.5" stroke="#e8302a" stroke-width="1.4" opacity="0.75"/>
<line x1="484.8" y1="438.8" x2="491.6" y2="438.8" stroke="#e8302a" stroke-width="1.4" opacity="0.75"/>
<line x1="495.4" y1="377.8" x2="502.2" y2="377.8" stroke="#e8302a" stroke-width="1.4" opacity="0.75"/>
<line x1="495.4" y1="449.6" x2="502.2" y2="449.6" stroke="#e8302a" stroke-width="1.4" opacity="0.75"/>
<line x1="507.4" y1="383.4" x2="514.2" y2="383.4" stroke="#e8302a" stroke-width="1.4" opacity="0.75"/>
<line x1="507.4" y1="482.7" x2="514.2" y2="482.7" stroke="#e8302a" stroke-width="1.4" opacity="0.75"/>
<line x1="520.9" y1="395.7" x2="527.7" y2="395.7" stroke="#e8302a" stroke-width="1.4" opacity="0.75"/>
<line x1="520.9" y1="473.3" x2="527.7" y2="473.3" stroke="#e8302a" stroke-width="1.4" opacity="0.75"/>
<line x1="536.5" y1="417.0" x2="543.3" y2="417.0" stroke="#e8302a" stroke-width="1.4" opacity="0.75"/>
<line x1="536.5" y1="496.3" x2="543.3" y2="496.3" stroke="#e8302a" stroke-width="1.4" opacity="0.75"/>
<line x1="555.0" y1="436.6" x2="561.8" y2="436.6" stroke="#e8302a" stroke-width="1.4" opacity="0.75"/>
<line x1="555.0" y1="505.1" x2="561.8" y2="505.1" stroke="#e8302a" stroke-width="1.4" opacity="0.75"/>
<line x1="577.6" y1="444.9" x2="584.4" y2="444.9" stroke="#e8302a" stroke-width="1.4" opacity="0.75"/>
<line x1="577.6" y1="513.9" x2="584.4" y2="513.9" stroke="#e8302a" stroke-width="1.4" opacity="0.75"/>
<line x1="606.7" y1="465.4" x2="613.5" y2="465.4" stroke="#e8302a" stroke-width="1.4" opacity="0.75"/>
<line x1="606.7" y1="540.5" x2="613.5" y2="540.5" stroke="#e8302a" stroke-width="1.4" opacity="0.75"/>
<line x1="647.8" y1="510.9" x2="654.6" y2="510.9" stroke="#e8302a" stroke-width="1.4" opacity="0.75"/>
<line x1="647.8" y1="552.0" x2="654.6" y2="552.0" stroke="#e8302a" stroke-width="1.4" opacity="0.75"/>
<line x1="373.6" y1="273.4" x2="380.4" y2="273.4" stroke="#2a8f2a" stroke-width="1.4" opacity="0.75"/>
<line x1="373.6" y1="336.4" x2="380.4" y2="336.4" stroke="#2a8f2a" stroke-width="1.4" opacity="0.75"/>
<line x1="377.1" y1="271.3" x2="383.9" y2="271.3" stroke="#2a8f2a" stroke-width="1.4" opacity="0.75"/>
<line x1="377.1" y1="337.3" x2="383.9" y2="337.3" stroke="#2a8f2a" stroke-width="1.4" opacity="0.75"/>
<line x1="380.6" y1="276.8" x2="387.4" y2="276.8" stroke="#2a8f2a" stroke-width="1.4" opacity="0.75"/>
<line x1="380.6" y1="346.0" x2="387.4" y2="346.0" stroke="#2a8f2a" stroke-width="1.4" opacity="0.75"/>
<line x1="384.3" y1="273.8" x2="391.1" y2="273.8" stroke="#2a8f2a" stroke-width="1.4" opacity="0.75"/>
<line x1="384.3" y1="351.2" x2="391.1" y2="351.2" stroke="#2a8f2a" stroke-width="1.4" opacity="0.75"/>
<line x1="388.1" y1="274.9" x2="394.9" y2="274.9" stroke="#2a8f2a" stroke-width="1.4" opacity="0.75"/>
<line x1="388.1" y1="364.0" x2="394.9" y2="364.0" stroke="#2a8f2a" stroke-width="1.4" opacity="0.75"/>
<line x1="392.1" y1="277.5" x2="398.9" y2="277.5" stroke="#2a8f2a" stroke-width="1.4" opacity="0.75"/>
<line x1="392.1" y1="365.9" x2="398.9" y2="365.9" stroke="#2a8f2a" stroke-width="1.4" opacity="0.75"/>
<line x1="396.2" y1="281.7" x2="403.0" y2="281.7" stroke="#2a8f2a" stroke-width="1.4" opacity="0.75"/>
<line x1="396.2" y1="361.9" x2="403.0" y2="361.9" stroke="#2a8f2a" stroke-width="1.4" opacity="0.75"/>
<line x1="400.6" y1="289.4" x2="407.4" y2="289.4" stroke="#2a8f2a" stroke-width="1.4" opacity="0.75"/>
<line x1="400.6" y1="360.3" x2="407.4" y2="360.3" stroke="#2a8f2a" stroke-width="1.4" opacity="0.75"/>
<line x1="405.1" y1="288.5" x2="411.9" y2="288.5" stroke="#2a8f2a" stroke-width="1.4" opacity="0.75"/>
<line x1="405.1" y1="372.6" x2="411.9" y2="372.6" stroke="#2a8f2a" stroke-width="1.4" opacity="0.75"/>
<line x1="409.8" y1="294.0" x2="416.6" y2="294.0" stroke="#2a8f2a" stroke-width="1.4" opacity="0.75"/>
<line x1="409.8" y1="377.1" x2="416.6" y2="377.1" stroke="#2a8f2a" stroke-width="1.4" opacity="0.75"/>
<line x1="414.7" y1="294.7" x2="421.5" y2="294.7" stroke="#2a8f2a" stroke-width="1.4" opacity="0.75"/>
<line x1="414.7" y1="382.5" x2="421.5" y2="382.5" stroke="#2a8f2a" stroke-width="1.4" opacity="0.75"/>
<line x1="419.9" y1="298.7" x2="426.7" y2="298.7" stroke="#2a8f2a" stroke-width="1.4" opacity="0.75"/>
<line x1="419.9" y1="380.4" x2="426.7" y2="380.4" stroke="#2a8f2a" stroke-width="1.4" opacity="0.75"/>
<line x1="425.4" y1="307.5" x2="432.2" y2="307.5" stroke="#2a8f2a" stroke-width="1.4" opacity="0.75"/>
<line x1="425.4" y1="392.7" x2="432.2" y2="392.7" stroke="#2a8f2a" stroke-width="1.4" opacity="0.75"/>
<line x1="431.2" y1="317.5" x2="438.0" y2="317.5" stroke="#2a8f2a" stroke-width="1.4" opacity="0.75"/>
<line x1="431.2" y1="374.7" x2="438.0" y2="374.7" stroke="#2a8f2a" stroke-width="1.4" opacity="0.75"/>
<line x1="437.3" y1="307.3" x2="444.1" y2="307.3" stroke="#2a8f2a" stroke-width="1.4" opacity="0.75"/>
<line x1="437.3" y1="385.8" x2="444.1" y2="385.8" stroke="#2a8f2a" stroke-width="1.4" opacity="0.75"/>
<line x1="443.9" y1="318.5" x2="450.7" y2="318.5" stroke="#2a8f2a" stroke-width="1.4" opacity="0.75"/>
<line x1="443.9" y1="392.9" x2="450.7" y2="392.9" stroke="#2a8f2a" stroke-width="1.4" opacity="0.75"/>
<line x1="450.9" y1="328.6" x2="457.7" y2="328.6" stroke="#2a8f2a" stroke-width="1.4" opacity="0.75"/>
<line x1="450.9" y1="399.7" x2="457.7" y2="399.7" stroke="#2a8f2a" stroke-width="1.4" opacity="0.75"/>
<line x1="458.4" y1="334.8" x2="465.2" y2="334.8" stroke="#2a8f2a" stroke-width="1.4" opacity="0.75"/>
<line x1="458.4" y1="405.5" x2="465.2" y2="405.5" stroke="#2a8f2a" stroke-width="1.4" opacity="0.75"/>
<line x1="466.5" y1="345.7" x2="473.3" y2="345.7" stroke="#2a8f2a" stroke-width="1.4" opacity="0.75"/>
<line x1="466.5" y1="417.5" x2="473.3" y2="417.5" stroke="#2a8f2a" stroke-width="1.4" opacity="0.75"/>
<line x1="475.3" y1="348.2" x2="482.1" y2="348.2" stroke="#2a8f2a" stroke-width="1.4" opacity="0.75"/>
<line x1="475.3" y1="413.1" x2="482.1" y2="413.1" stroke="#2a8f2a" stroke-width="1.4" opacity="0.75"/>
<line x1="485.0" y1="357.1" x2="491.8" y2="357.1" stroke="#2a8f2a" stroke-width="1.4" opacity="0.75"/>
<line x1="485.0" y1="419.2" x2="491.8" y2="419.2" stroke="#2a8f2a" stroke-width="1.4" opacity="0.75"/>
<line x1="495.6" y1="358.3" x2="502.4" y2="358.3" stroke="#2a8f2a" stroke-width="1.4" opacity="0.75"/>
<line x1="495.6" y1="424.7" x2="502.4" y2="424.7" stroke="#2a8f2a" stroke-width="1.4" opacity="0.75"/>
<line x1="507.6" y1="373.8" x2="514.4" y2="373.8" stroke="#2a8f2a" stroke-width="1.4" opacity="0.75"/>
<line x1="507.6" y1="454.5" x2="514.4" y2="454.5" stroke="#2a8f2a" stroke-width="1.4" opacity="0.75"/>
<line x1="521.1" y1="376.3" x2="527.9" y2="376.3" stroke="#2a8f2a" stroke-width="1.4" opacity="0.75"/>
<line x1="521.1" y1="445.7" x2="527.9" y2="445.7" stroke="#2a8f2a" stroke-width="1.4" opacity="0.75"/>
<line x1="536.7" y1="392.1" x2="543.5" y2="392.1" stroke="#2a8f2a" stroke-width="1.4" opacity="0.75"/>
<line x1="536.7" y1="476.2" x2="543.5" y2="476.2" stroke="#2a8f2a" stroke-width="1.4" opacity="0.75"/>
<line x1="555.2" y1="413.7" x2="562.0" y2="413.7" stroke="#2a8f2a" stroke-width="1.4" opacity="0.75"/>
<line x1="555.2" y1="470.1" x2="562.0" y2="470.1" stroke="#2a8f2a" stroke-width="1.4" opacity="0.75"/>
<line x1="577.8" y1="432.4" x2="584.6" y2="432.4" stroke="#2a8f2a" stroke-width="1.4" opacity="0.75"/>
<line x1="577.8" y1="502.9" x2="584.6" y2="502.9" stroke="#2a8f2a" stroke-width="1.4" opacity="0.75"/>
<line x1="606.9" y1="455.9" x2="613.7" y2="455.9" stroke="#2a8f2a" stroke-width="1.4" opacity="0.75"/>
<line x1="606.9" y1="512.3" x2="613.7" y2="512.3" stroke="#2a8f2a" stroke-width="1.4" opacity="0.75"/>
<line x1="648.0" y1="481.5" x2="654.8" y2="481.5" stroke="#2a8f2a" stroke-width="1.4" opacity="0.75"/>
<line x1="648.0" y1="552.0" x2="654.8" y2="552.0" stroke="#2a8f2a" stroke-width="1.4" opacity="0.75"/>
<line x1="373.8" y1="275.8" x2="380.6" y2="275.8" stroke="#3352ee" stroke-width="1.4" opacity="0.75"/>
<line x1="373.8" y1="330.3" x2="380.6" y2="330.3" stroke="#3352ee" stroke-width="1.4" opacity="0.75"/>
<line x1="377.3" y1="273.5" x2="384.1" y2="273.5" stroke="#3352ee" stroke-width="1.4" opacity="0.75"/>
<line x1="377.3" y1="334.5" x2="384.1" y2="334.5" stroke="#3352ee" stroke-width="1.4" opacity="0.75"/>
<line x1="380.8" y1="276.5" x2="387.6" y2="276.5" stroke="#3352ee" stroke-width="1.4" opacity="0.75"/>
<line x1="380.8" y1="339.1" x2="387.6" y2="339.1" stroke="#3352ee" stroke-width="1.4" opacity="0.75"/>
<line x1="384.5" y1="276.7" x2="391.3" y2="276.7" stroke="#3352ee" stroke-width="1.4" opacity="0.75"/>
<line x1="384.5" y1="328.3" x2="391.3" y2="328.3" stroke="#3352ee" stroke-width="1.4" opacity="0.75"/>
<line x1="388.3" y1="273.6" x2="395.1" y2="273.6" stroke="#3352ee" stroke-width="1.4" opacity="0.75"/>
<line x1="388.3" y1="363.0" x2="395.1" y2="363.0" stroke="#3352ee" stroke-width="1.4" opacity="0.75"/>
<line x1="392.3" y1="272.3" x2="399.1" y2="272.3" stroke="#3352ee" stroke-width="1.4" opacity="0.75"/>
<line x1="392.3" y1="363.7" x2="399.1" y2="363.7" stroke="#3352ee" stroke-width="1.4" opacity="0.75"/>
<line x1="396.4" y1="275.0" x2="403.2" y2="275.0" stroke="#3352ee" stroke-width="1.4" opacity="0.75"/>
<line x1="396.4" y1="363.5" x2="403.2" y2="363.5" stroke="#3352ee" stroke-width="1.4" opacity="0.75"/>
<line x1="400.8" y1="277.4" x2="407.6" y2="277.4" stroke="#3352ee" stroke-width="1.4" opacity="0.75"/>
<line x1="400.8" y1="349.0" x2="407.6" y2="349.0" stroke="#3352ee" stroke-width="1.4" opacity="0.75"/>
<line x1="405.3" y1="285.5" x2="412.1" y2="285.5" stroke="#3352ee" stroke-width="1.4" opacity="0.75"/>
<line x1="405.3" y1="345.1" x2="412.1" y2="345.1" stroke="#3352ee" stroke-width="1.4" opacity="0.75"/>
<line x1="410.0" y1="288.0" x2="416.8" y2="288.0" stroke="#3352ee" stroke-width="1.4" opacity="0.75"/>
<line x1="410.0" y1="371.6" x2="416.8" y2="371.6" stroke="#3352ee" stroke-width="1.4" opacity="0.75"/>
<line x1="414.9" y1="281.9" x2="421.7" y2="281.9" stroke="#3352ee" stroke-width="1.4" opacity="0.75"/>
<line x1="414.9" y1="371.3" x2="421.7" y2="371.3" stroke="#3352ee" stroke-width="1.4" opacity="0.75"/>
<line x1="420.1" y1="285.9" x2="426.9" y2="285.9" stroke="#3352ee" stroke-width="1.4" opacity="0.75"/>
<line x1="420.1" y1="381.0" x2="426.9" y2="381.0" stroke="#3352ee" stroke-width="1.4" opacity="0.75"/>
<line x1="425.6" y1="304.1" x2="432.4" y2="304.1" stroke="#3352ee" stroke-width="1.4" opacity="0.75"/>
<line x1="425.6" y1="380.0" x2="432.4" y2="380.0" stroke="#3352ee" stroke-width="1.4" opacity="0.75"/>
<line x1="431.4" y1="303.8" x2="438.2" y2="303.8" stroke="#3352ee" stroke-width="1.4" opacity="0.75"/>
<line x1="431.4" y1="381.4" x2="438.2" y2="381.4" stroke="#3352ee" stroke-width="1.4" opacity="0.75"/>
<line x1="437.5" y1="306.6" x2="444.3" y2="306.6" stroke="#3352ee" stroke-width="1.4" opacity="0.75"/>
<line x1="437.5" y1="393.6" x2="444.3" y2="393.6" stroke="#3352ee" stroke-width="1.4" opacity="0.75"/>
<line x1="444.1" y1="312.6" x2="450.9" y2="312.6" stroke="#3352ee" stroke-width="1.4" opacity="0.75"/>
<line x1="444.1" y1="378.0" x2="450.9" y2="378.0" stroke="#3352ee" stroke-width="1.4" opacity="0.75"/>
<line x1="451.1" y1="315.7" x2="457.9" y2="315.7" stroke="#3352ee" stroke-width="1.4" opacity="0.75"/>
<line x1="451.1" y1="398.0" x2="457.9" y2="398.0" stroke="#3352ee" stroke-width="1.4" opacity="0.75"/>
<line x1="458.6" y1="325.8" x2="465.4" y2="325.8" stroke="#3352ee" stroke-width="1.4" opacity="0.75"/>
<line x1="458.6" y1="396.0" x2="465.4" y2="396.0" stroke="#3352ee" stroke-width="1.4" opacity="0.75"/>
<line x1="466.7" y1="332.2" x2="473.5" y2="332.2" stroke="#3352ee" stroke-width="1.4" opacity="0.75"/>
<line x1="466.7" y1="408.6" x2="473.5" y2="408.6" stroke="#3352ee" stroke-width="1.4" opacity="0.75"/>
<line x1="475.5" y1="328.7" x2="482.3" y2="328.7" stroke="#3352ee" stroke-width="1.4" opacity="0.75"/>
<line x1="475.5" y1="415.3" x2="482.3" y2="415.3" stroke="#3352ee" stroke-width="1.4" opacity="0.75"/>
<line x1="485.2" y1="338.7" x2="492.0" y2="338.7" stroke="#3352ee" stroke-width="1.4" opacity="0.75"/>
<line x1="485.2" y1="422.6" x2="492.0" y2="422.6" stroke="#3352ee" stroke-width="1.4" opacity="0.75"/>
<line x1="495.8" y1="352.4" x2="502.6" y2="352.4" stroke="#3352ee" stroke-width="1.4" opacity="0.75"/>
<line x1="495.8" y1="414.6" x2="502.6" y2="414.6" stroke="#3352ee" stroke-width="1.4" opacity="0.75"/>
<line x1="507.8" y1="358.9" x2="514.6" y2="358.9" stroke="#3352ee" stroke-width="1.4" opacity="0.75"/>
<line x1="507.8" y1="427.9" x2="514.6" y2="427.9" stroke="#3352ee" stroke-width="1.4" opacity="0.75"/>
<line x1="521.3" y1="375.7" x2="528.1" y2="375.7" stroke="#3352ee" stroke-width="1.4" opacity="0.75"/>
<line x1="521.3" y1="427.3" x2="528.1" y2="427.3" stroke="#3352ee" stroke-width="1.4" opacity="0.75"/>
<line x1="536.9" y1="385.4" x2="543.7" y2="385.4" stroke="#3352ee" stroke-width="1.4" opacity="0.75"/>
<line x1="536.9" y1="438.7" x2="543.7" y2="438.7" stroke="#3352ee" stroke-width="1.4" opacity="0.75"/>
<line x1="555.4" y1="387.6" x2="562.2" y2="387.6" stroke="#3352ee" stroke-width="1.4" opacity="0.75"/>
<line x1="555.4" y1="452.2" x2="562.2" y2="452.2" stroke="#3352ee" stroke-width="1.4" opacity="0.75"/>
<line x1="578.0" y1="413.1" x2="584.8" y2="413.1" stroke="#3352ee" stroke-width="1.4" opacity="0.75"/>
<line x1="578.0" y1="472.8" x2="584.8" y2="472.8" stroke="#3352ee" stroke-width="1.4" opacity="0.75"/>
<line x1="607.1" y1="429.5" x2="613.9" y2="429.5" stroke="#3352ee" stroke-width="1.4" opacity="0.75"/>
<line x1="607.1" y1="497.9" x2="613.9" y2="497.9" stroke="#3352ee" stroke-width="1.4" opacity="0.75"/>
<line x1="648.2" y1="467.5" x2="655.0" y2="467.5" stroke="#3352ee" stroke-width="1.4" opacity="0.75"/>
<line x1="648.2" y1="521.7" x2="655.0" y2="521.7" stroke="#3352ee" stroke-width="1.4" opacity="0.75"/>
<line x1="374.0" y1="273.3" x2="380.8" y2="273.3" stroke="#ff8533" stroke-width="1.4" opacity="0.75"/>
<line x1="374.0" y1="338.9" x2="380.8" y2="338.9" stroke="#ff8533" stroke-width="1.4" opacity="0.75"/>
<line x1="377.5" y1="273.2" x2="384.3" y2="273.2" stroke="#ff8533" stroke-width="1.4" opacity="0.75"/>
<line x1="377.5" y1="325.2" x2="384.3" y2="325.2" stroke="#ff8533" stroke-width="1.4" opacity="0.75"/>
<line x1="381.0" y1="273.3" x2="387.8" y2="273.3" stroke="#ff8533" stroke-width="1.4" opacity="0.75"/>
<line x1="381.0" y1="345.3" x2="387.8" y2="345.3" stroke="#ff8533" stroke-width="1.4" opacity="0.75"/>
<line x1="384.7" y1="273.6" x2="391.5" y2="273.6" stroke="#ff8533" stroke-width="1.4" opacity="0.75"/>
<line x1="384.7" y1="342.9" x2="391.5" y2="342.9" stroke="#ff8533" stroke-width="1.4" opacity="0.75"/>
<line x1="388.5" y1="275.2" x2="395.3" y2="275.2" stroke="#ff8533" stroke-width="1.4" opacity="0.75"/>
<line x1="388.5" y1="341.6" x2="395.3" y2="341.6" stroke="#ff8533" stroke-width="1.4" opacity="0.75"/>
<line x1="392.5" y1="273.8" x2="399.3" y2="273.8" stroke="#ff8533" stroke-width="1.4" opacity="0.75"/>
<line x1="392.5" y1="349.9" x2="399.3" y2="349.9" stroke="#ff8533" stroke-width="1.4" opacity="0.75"/>
<line x1="396.6" y1="275.2" x2="403.4" y2="275.2" stroke="#ff8533" stroke-width="1.4" opacity="0.75"/>
<line x1="396.6" y1="348.0" x2="403.4" y2="348.0" stroke="#ff8533" stroke-width="1.4" opacity="0.75"/>
<line x1="401.0" y1="279.1" x2="407.8" y2="279.1" stroke="#ff8533" stroke-width="1.4" opacity="0.75"/>
<line x1="401.0" y1="347.6" x2="407.8" y2="347.6" stroke="#ff8533" stroke-width="1.4" opacity="0.75"/>
<line x1="405.5" y1="273.2" x2="412.3" y2="273.2" stroke="#ff8533" stroke-width="1.4" opacity="0.75"/>
<line x1="405.5" y1="364.8" x2="412.3" y2="364.8" stroke="#ff8533" stroke-width="1.4" opacity="0.75"/>
<line x1="410.2" y1="272.6" x2="417.0" y2="272.6" stroke="#ff8533" stroke-width="1.4" opacity="0.75"/>
<line x1="410.2" y1="363.6" x2="417.0" y2="363.6" stroke="#ff8533" stroke-width="1.4" opacity="0.75"/>
<line x1="415.1" y1="281.9" x2="421.9" y2="281.9" stroke="#ff8533" stroke-width="1.4" opacity="0.75"/>
<line x1="415.1" y1="348.4" x2="421.9" y2="348.4" stroke="#ff8533" stroke-width="1.4" opacity="0.75"/>
<line x1="420.3" y1="281.9" x2="427.1" y2="281.9" stroke="#ff8533" stroke-width="1.4" opacity="0.75"/>
<line x1="420.3" y1="372.5" x2="427.1" y2="372.5" stroke="#ff8533" stroke-width="1.4" opacity="0.75"/>
<line x1="425.8" y1="285.6" x2="432.6" y2="285.6" stroke="#ff8533" stroke-width="1.4" opacity="0.75"/>
<line x1="425.8" y1="371.8" x2="432.6" y2="371.8" stroke="#ff8533" stroke-width="1.4" opacity="0.75"/>
<line x1="431.6" y1="299.8" x2="438.4" y2="299.8" stroke="#ff8533" stroke-width="1.4" opacity="0.75"/>
<line x1="431.6" y1="371.6" x2="438.4" y2="371.6" stroke="#ff8533" stroke-width="1.4" opacity="0.75"/>
<line x1="437.7" y1="303.3" x2="444.5" y2="303.3" stroke="#ff8533" stroke-width="1.4" opacity="0.75"/>
<line x1="437.7" y1="380.3" x2="444.5" y2="380.3" stroke="#ff8533" stroke-width="1.4" opacity="0.75"/>
<line x1="444.3" y1="308.8" x2="451.1" y2="308.8" stroke="#ff8533" stroke-width="1.4" opacity="0.75"/>
<line x1="444.3" y1="367.1" x2="451.1" y2="367.1" stroke="#ff8533" stroke-width="1.4" opacity="0.75"/>
<line x1="451.3" y1="312.1" x2="458.1" y2="312.1" stroke="#ff8533" stroke-width="1.4" opacity="0.75"/>
<line x1="451.3" y1="369.8" x2="458.1" y2="369.8" stroke="#ff8533" stroke-width="1.4" opacity="0.75"/>
<line x1="458.8" y1="318.3" x2="465.6" y2="318.3" stroke="#ff8533" stroke-width="1.4" opacity="0.75"/>
<line x1="458.8" y1="395.1" x2="465.6" y2="395.1" stroke="#ff8533" stroke-width="1.4" opacity="0.75"/>
<line x1="466.9" y1="311.1" x2="473.7" y2="311.1" stroke="#ff8533" stroke-width="1.4" opacity="0.75"/>
<line x1="466.9" y1="402.8" x2="473.7" y2="402.8" stroke="#ff8533" stroke-width="1.4" opacity="0.75"/>
<line x1="475.7" y1="317.9" x2="482.5" y2="317.9" stroke="#ff8533" stroke-width="1.4" opacity="0.75"/>
<line x1="475.7" y1="386.4" x2="482.5" y2="386.4" stroke="#ff8533" stroke-width="1.4" opacity="0.75"/>
<line x1="485.4" y1="329.8" x2="492.2" y2="329.8" stroke="#ff8533" stroke-width="1.4" opacity="0.75"/>
<line x1="485.4" y1="408.6" x2="492.2" y2="408.6" stroke="#ff8533" stroke-width="1.4" opacity="0.75"/>
<line x1="496.0" y1="332.9" x2="502.8" y2="332.9" stroke="#ff8533" stroke-width="1.4" opacity="0.75"/>
<line x1="496.0" y1="420.2" x2="502.8" y2="420.2" stroke="#ff8533" stroke-width="1.4" opacity="0.75"/>
<line x1="508.0" y1="348.8" x2="514.8" y2="348.8" stroke="#ff8533" stroke-width="1.4" opacity="0.75"/>
<line x1="508.0" y1="419.4" x2="514.8" y2="419.4" stroke="#ff8533" stroke-width="1.4" opacity="0.75"/>
<line x1="521.5" y1="359.7" x2="528.3" y2="359.7" stroke="#ff8533" stroke-width="1.4" opacity="0.75"/>
<line x1="521.5" y1="420.0" x2="528.3" y2="420.0" stroke="#ff8533" stroke-width="1.4" opacity="0.75"/>
<line x1="537.1" y1="363.8" x2="543.9" y2="363.8" stroke="#ff8533" stroke-width="1.4" opacity="0.75"/>
<line x1="537.1" y1="441.8" x2="543.9" y2="441.8" stroke="#ff8533" stroke-width="1.4" opacity="0.75"/>
<line x1="555.6" y1="381.1" x2="562.4" y2="381.1" stroke="#ff8533" stroke-width="1.4" opacity="0.75"/>
<line x1="555.6" y1="446.5" x2="562.4" y2="446.5" stroke="#ff8533" stroke-width="1.4" opacity="0.75"/>
<line x1="578.2" y1="395.9" x2="585.0" y2="395.9" stroke="#ff8533" stroke-width="1.4" opacity="0.75"/>
<line x1="578.2" y1="455.5" x2="585.0" y2="455.5" stroke="#ff8533" stroke-width="1.4" opacity="0.75"/>
<line x1="607.3" y1="406.2" x2="614.1" y2="406.2" stroke="#ff8533" stroke-width="1.4" opacity="0.75"/>
<line x1="607.3" y1="480.1" x2="614.1" y2="480.1" stroke="#ff8533" stroke-width="1.4" opacity="0.75"/>
<line x1="648.4" y1="449.3" x2="655.2" y2="449.3" stroke="#ff8533" stroke-width="1.4" opacity="0.75"/>
<line x1="648.4" y1="510.4" x2="655.2" y2="510.4" stroke="#ff8533" stroke-width="1.4" opacity="0.75"/>
<line x1="374.2" y1="273.9" x2="381.0" y2="273.9" stroke="#e07ad8" stroke-width="1.4" opacity="0.75"/>
<line x1="374.2" y1="337.8" x2="381.0" y2="337.8" stroke="#e07ad8" stroke-width="1.4" opacity="0.75"/>
<line x1="377.7" y1="271.9" x2="384.5" y2="271.9" stroke="#e07ad8" stroke-width="1.4" opacity="0.75"/>
<line x1="377.7" y1="349.6" x2="384.5" y2="349.6" stroke="#e07ad8" stroke-width="1.4" opacity="0.75"/>
<line x1="381.2" y1="276.5" x2="388.0" y2="276.5" stroke="#e07ad8" stroke-width="1.4" opacity="0.75"/>
<line x1="381.2" y1="347.8" x2="388.0" y2="347.8" stroke="#e07ad8" stroke-width="1.4" opacity="0.75"/>
<line x1="384.9" y1="275.3" x2="391.7" y2="275.3" stroke="#e07ad8" stroke-width="1.4" opacity="0.75"/>
<line x1="384.9" y1="342.1" x2="391.7" y2="342.1" stroke="#e07ad8" stroke-width="1.4" opacity="0.75"/>
<line x1="388.7" y1="272.2" x2="395.5" y2="272.2" stroke="#e07ad8" stroke-width="1.4" opacity="0.75"/>
<line x1="388.7" y1="339.8" x2="395.5" y2="339.8" stroke="#e07ad8" stroke-width="1.4" opacity="0.75"/>
<line x1="392.7" y1="272.4" x2="399.5" y2="272.4" stroke="#e07ad8" stroke-width="1.4" opacity="0.75"/>
<line x1="392.7" y1="343.4" x2="399.5" y2="343.4" stroke="#e07ad8" stroke-width="1.4" opacity="0.75"/>
<line x1="396.8" y1="272.8" x2="403.6" y2="272.8" stroke="#e07ad8" stroke-width="1.4" opacity="0.75"/>
<line x1="396.8" y1="361.7" x2="403.6" y2="361.7" stroke="#e07ad8" stroke-width="1.4" opacity="0.75"/>
<line x1="401.2" y1="276.1" x2="408.0" y2="276.1" stroke="#e07ad8" stroke-width="1.4" opacity="0.75"/>
<line x1="401.2" y1="350.7" x2="408.0" y2="350.7" stroke="#e07ad8" stroke-width="1.4" opacity="0.75"/>
<line x1="405.7" y1="274.5" x2="412.5" y2="274.5" stroke="#e07ad8" stroke-width="1.4" opacity="0.75"/>
<line x1="405.7" y1="349.8" x2="412.5" y2="349.8" stroke="#e07ad8" stroke-width="1.4" opacity="0.75"/>
<line x1="410.4" y1="287.5" x2="417.2" y2="287.5" stroke="#e07ad8" stroke-width="1.4" opacity="0.75"/>
<line x1="410.4" y1="357.7" x2="417.2" y2="357.7" stroke="#e07ad8" stroke-width="1.4" opacity="0.75"/>
<line x1="415.3" y1="287.9" x2="422.1" y2="287.9" stroke="#e07ad8" stroke-width="1.4" opacity="0.75"/>
<line x1="415.3" y1="357.7" x2="422.1" y2="357.7" stroke="#e07ad8" stroke-width="1.4" opacity="0.75"/>
<line x1="420.5" y1="280.3" x2="427.3" y2="280.3" stroke="#e07ad8" stroke-width="1.4" opacity="0.75"/>
<line x1="420.5" y1="355.6" x2="427.3" y2="355.6" stroke="#e07ad8" stroke-width="1.4" opacity="0.75"/>
<line x1="426.0" y1="289.0" x2="432.8" y2="289.0" stroke="#e07ad8" stroke-width="1.4" opacity="0.75"/>
<line x1="426.0" y1="369.5" x2="432.8" y2="369.5" stroke="#e07ad8" stroke-width="1.4" opacity="0.75"/>
<line x1="431.8" y1="286.2" x2="438.6" y2="286.2" stroke="#e07ad8" stroke-width="1.4" opacity="0.75"/>
<line x1="431.8" y1="378.0" x2="438.6" y2="378.0" stroke="#e07ad8" stroke-width="1.4" opacity="0.75"/>
<line x1="437.9" y1="296.4" x2="444.7" y2="296.4" stroke="#e07ad8" stroke-width="1.4" opacity="0.75"/>
<line x1="437.9" y1="379.1" x2="444.7" y2="379.1" stroke="#e07ad8" stroke-width="1.4" opacity="0.75"/>
<line x1="444.5" y1="302.0" x2="451.3" y2="302.0" stroke="#e07ad8" stroke-width="1.4" opacity="0.75"/>
<line x1="444.5" y1="383.1" x2="451.3" y2="383.1" stroke="#e07ad8" stroke-width="1.4" opacity="0.75"/>
<line x1="451.5" y1="305.1" x2="458.3" y2="305.1" stroke="#e07ad8" stroke-width="1.4" opacity="0.75"/>
<line x1="451.5" y1="376.0" x2="458.3" y2="376.0" stroke="#e07ad8" stroke-width="1.4" opacity="0.75"/>
<line x1="459.0" y1="305.3" x2="465.8" y2="305.3" stroke="#e07ad8" stroke-width="1.4" opacity="0.75"/>
<line x1="459.0" y1="390.1" x2="465.8" y2="390.1" stroke="#e07ad8" stroke-width="1.4" opacity="0.75"/>
<line x1="467.1" y1="307.9" x2="473.9" y2="307.9" stroke="#e07ad8" stroke-width="1.4" opacity="0.75"/>
<line x1="467.1" y1="385.5" x2="473.9" y2="385.5" stroke="#e07ad8" stroke-width="1.4" opacity="0.75"/>
<line x1="475.9" y1="324.1" x2="482.7" y2="324.1" stroke="#e07ad8" stroke-width="1.4" opacity="0.75"/>
<line x1="475.9" y1="389.5" x2="482.7" y2="389.5" stroke="#e07ad8" stroke-width="1.4" opacity="0.75"/>
<line x1="485.6" y1="319.3" x2="492.4" y2="319.3" stroke="#e07ad8" stroke-width="1.4" opacity="0.75"/>
<line x1="485.6" y1="409.7" x2="492.4" y2="409.7" stroke="#e07ad8" stroke-width="1.4" opacity="0.75"/>
<line x1="496.2" y1="325.9" x2="503.0" y2="325.9" stroke="#e07ad8" stroke-width="1.4" opacity="0.75"/>
<line x1="496.2" y1="404.1" x2="503.0" y2="404.1" stroke="#e07ad8" stroke-width="1.4" opacity="0.75"/>
<line x1="508.2" y1="335.8" x2="515.0" y2="335.8" stroke="#e07ad8" stroke-width="1.4" opacity="0.75"/>
<line x1="508.2" y1="406.8" x2="515.0" y2="406.8" stroke="#e07ad8" stroke-width="1.4" opacity="0.75"/>
<line x1="521.7" y1="342.3" x2="528.5" y2="342.3" stroke="#e07ad8" stroke-width="1.4" opacity="0.75"/>
<line x1="521.7" y1="418.7" x2="528.5" y2="418.7" stroke="#e07ad8" stroke-width="1.4" opacity="0.75"/>
<line x1="537.3" y1="356.6" x2="544.1" y2="356.6" stroke="#e07ad8" stroke-width="1.4" opacity="0.75"/>
<line x1="537.3" y1="434.6" x2="544.1" y2="434.6" stroke="#e07ad8" stroke-width="1.4" opacity="0.75"/>
<line x1="555.8" y1="372.5" x2="562.6" y2="372.5" stroke="#e07ad8" stroke-width="1.4" opacity="0.75"/>
<line x1="555.8" y1="441.1" x2="562.6" y2="441.1" stroke="#e07ad8" stroke-width="1.4" opacity="0.75"/>
<line x1="578.4" y1="388.9" x2="585.2" y2="388.9" stroke="#e07ad8" stroke-width="1.4" opacity="0.75"/>
<line x1="578.4" y1="456.6" x2="585.2" y2="456.6" stroke="#e07ad8" stroke-width="1.4" opacity="0.75"/>
<line x1="607.5" y1="403.8" x2="614.3" y2="403.8" stroke="#e07ad8" stroke-width="1.4" opacity="0.75"/>
<line x1="607.5" y1="472.7" x2="614.3" y2="472.7" stroke="#e07ad8" stroke-width="1.4" opacity="0.75"/>
<line x1="648.6" y1="431.5" x2="655.4" y2="431.5" stroke="#e07ad8" stroke-width="1.4" opacity="0.75"/>
<line x1="648.6" y1="497.8" x2="655.4" y2="497.8" stroke="#e07ad8" stroke-width="1.4" opacity="0.75"/>
<line x1="377.2" y1="306.2" x2="651.8" y2="544.3" stroke="#e8302a" stroke-width="1.5"/>
<line x1="377.2" y1="297.9" x2="651.8" y2="524.1" stroke="#2a8f2a" stroke-width="1.5"/>
<line x1="377.2" y1="293.6" x2="651.8" y2="490.2" stroke="#ff8533" stroke-width="1.5"/>
<line x1="377.2" y1="303.2" x2="651.8" y2="480.3" stroke="#e07ad8" stroke-width="1.5"/>
<line x1="377.2" y1="293.7" x2="651.8" y2="504.7" stroke="#3352ee" stroke-width="1.5"/>
<rect x="360.5" y="258.5" width="309.0" height="306.0" fill="none" stroke="#6a6a6a" stroke-width="0.9"/>
<line x1="358.5" y1="547.8" x2="360.5" y2="547.8" stroke="#777" stroke-width="0.8"/>
<line x1="358.5" y1="535.1" x2="360.5" y2="535.1" stroke="#777" stroke-width="0.8"/>
<line x1="358.5" y1="526.2" x2="360.5" y2="526.2" stroke="#777" stroke-width="0.8"/>
<line x1="358.5" y1="519.2" x2="360.5" y2="519.2" stroke="#777" stroke-width="0.8"/>
<line x1="358.5" y1="513.5" x2="360.5" y2="513.5" stroke="#777" stroke-width="0.8"/>
<line x1="358.5" y1="508.7" x2="360.5" y2="508.7" stroke="#777" stroke-width="0.8"/>
<line x1="358.5" y1="504.5" x2="360.5" y2="504.5" stroke="#777" stroke-width="0.8"/>
<line x1="358.5" y1="500.8" x2="360.5" y2="500.8" stroke="#777" stroke-width="0.8"/>
<line x1="357.0" y1="497.5" x2="360.5" y2="497.5" stroke="#777" stroke-width="0.8"/>
<line x1="358.5" y1="475.8" x2="360.5" y2="475.8" stroke="#777" stroke-width="0.8"/>
<line x1="358.5" y1="463.1" x2="360.5" y2="463.1" stroke="#777" stroke-width="0.8"/>
<line x1="358.5" y1="454.2" x2="360.5" y2="454.2" stroke="#777" stroke-width="0.8"/>
<line x1="358.5" y1="447.2" x2="360.5" y2="447.2" stroke="#777" stroke-width="0.8"/>
<line x1="358.5" y1="441.5" x2="360.5" y2="441.5" stroke="#777" stroke-width="0.8"/>
<line x1="358.5" y1="436.7" x2="360.5" y2="436.7" stroke="#777" stroke-width="0.8"/>
<line x1="358.5" y1="432.5" x2="360.5" y2="432.5" stroke="#777" stroke-width="0.8"/>
<line x1="358.5" y1="428.8" x2="360.5" y2="428.8" stroke="#777" stroke-width="0.8"/>
<line x1="357.0" y1="425.5" x2="360.5" y2="425.5" stroke="#777" stroke-width="0.8"/>
<line x1="358.5" y1="403.8" x2="360.5" y2="403.8" stroke="#777" stroke-width="0.8"/>
<line x1="358.5" y1="391.1" x2="360.5" y2="391.1" stroke="#777" stroke-width="0.8"/>
<line x1="358.5" y1="382.2" x2="360.5" y2="382.2" stroke="#777" stroke-width="0.8"/>
<line x1="358.5" y1="375.2" x2="360.5" y2="375.2" stroke="#777" stroke-width="0.8"/>
<line x1="358.5" y1="369.5" x2="360.5" y2="369.5" stroke="#777" stroke-width="0.8"/>
<line x1="358.5" y1="364.7" x2="360.5" y2="364.7" stroke="#777" stroke-width="0.8"/>
<line x1="358.5" y1="360.5" x2="360.5" y2="360.5" stroke="#777" stroke-width="0.8"/>
<line x1="358.5" y1="356.8" x2="360.5" y2="356.8" stroke="#777" stroke-width="0.8"/>
<line x1="357.0" y1="353.5" x2="360.5" y2="353.5" stroke="#777" stroke-width="0.8"/>
<line x1="358.5" y1="331.8" x2="360.5" y2="331.8" stroke="#777" stroke-width="0.8"/>
<line x1="358.5" y1="319.1" x2="360.5" y2="319.1" stroke="#777" stroke-width="0.8"/>
<line x1="358.5" y1="310.2" x2="360.5" y2="310.2" stroke="#777" stroke-width="0.8"/>
<line x1="358.5" y1="303.2" x2="360.5" y2="303.2" stroke="#777" stroke-width="0.8"/>
<line x1="358.5" y1="297.5" x2="360.5" y2="297.5" stroke="#777" stroke-width="0.8"/>
<line x1="358.5" y1="292.7" x2="360.5" y2="292.7" stroke="#777" stroke-width="0.8"/>
<line x1="358.5" y1="288.5" x2="360.5" y2="288.5" stroke="#777" stroke-width="0.8"/>
<line x1="358.5" y1="284.8" x2="360.5" y2="284.8" stroke="#777" stroke-width="0.8"/>
<line x1="357.0" y1="281.5" x2="360.5" y2="281.5" stroke="#777" stroke-width="0.8"/>
<line x1="358.5" y1="259.8" x2="360.5" y2="259.8" stroke="#777" stroke-width="0.8"/>
<text x="353.4" y="501.7" text-anchor="end" font-family="Liberation Sans" font-size="8.2" fill="#333">10<tspan dy="-3.2" font-size="6">0</tspan></text>
<text x="353.4" y="429.7" text-anchor="end" font-family="Liberation Sans" font-size="8.2" fill="#333">10<tspan dy="-3.2" font-size="6">1</tspan></text>
<text x="353.4" y="357.7" text-anchor="end" font-family="Liberation Sans" font-size="8.2" fill="#333">10<tspan dy="-3.2" font-size="6">2</tspan></text>
<text x="353.4" y="285.7" text-anchor="end" font-family="Liberation Sans" font-size="8.2" fill="#333">10<tspan dy="-3.2" font-size="6">3</tspan></text>
<line x1="370.7" y1="564.5" x2="370.7" y2="568.0" stroke="#777" stroke-width="0.8"/>
<line x1="440.9" y1="564.5" x2="440.9" y2="566.5" stroke="#777" stroke-width="0.8"/>
<line x1="482.0" y1="564.5" x2="482.0" y2="566.5" stroke="#777" stroke-width="0.8"/>
<line x1="511.2" y1="564.5" x2="511.2" y2="566.5" stroke="#777" stroke-width="0.8"/>
<line x1="533.8" y1="564.5" x2="533.8" y2="566.5" stroke="#777" stroke-width="0.8"/>
<line x1="552.2" y1="564.5" x2="552.2" y2="566.5" stroke="#777" stroke-width="0.8"/>
<line x1="567.9" y1="564.5" x2="567.9" y2="566.5" stroke="#777" stroke-width="0.8"/>
<line x1="581.4" y1="564.5" x2="581.4" y2="566.5" stroke="#777" stroke-width="0.8"/>
<line x1="593.3" y1="564.5" x2="593.3" y2="566.5" stroke="#777" stroke-width="0.8"/>
<line x1="604.0" y1="564.5" x2="604.0" y2="568.0" stroke="#777" stroke-width="0.8"/>
<text x="364.7" y="579.2" font-family="Liberation Sans" font-size="8.2" fill="#333">10<tspan dy="-3.2" font-size="6">0</tspan></text>
<text x="598.0" y="579.2" font-family="Liberation Sans" font-size="8.2" fill="#333">10<tspan dy="-3.2" font-size="6">1</tspan></text>
<rect x="504.5" y="262.5" width="160.5" height="61.5" rx="2" fill="#ffffff" fill-opacity="0.85" stroke="#d8d8d8" stroke-width="0.8"/>
<line x1="507" y1="268.9" x2="524" y2="268.9" stroke="#e8302a" stroke-width="1.5"/>
<text x="529.8" y="272.8" font-family="Liberation Sans" font-size="9.2" fill="#222" textLength="126" lengthAdjust="spacingAndGlyphs">Threshold: 0.3, Power law: -2.81</text>
<line x1="507" y1="280.8" x2="524" y2="280.8" stroke="#2a8f2a" stroke-width="1.5"/>
<text x="529.8" y="284.7" font-family="Liberation Sans" font-size="9.2" fill="#222" textLength="131" lengthAdjust="spacingAndGlyphs">Threshold: 0.45, Power law: -2.67</text>
<line x1="507" y1="292.7" x2="524" y2="292.7" stroke="#3352ee" stroke-width="1.5"/>
<text x="529.8" y="296.6" font-family="Liberation Sans" font-size="9.2" fill="#222" textLength="126" lengthAdjust="spacingAndGlyphs">Threshold: 0.6, Power law: -2.49</text>
<line x1="507" y1="304.6" x2="524" y2="304.6" stroke="#ff8533" stroke-width="1.5"/>
<text x="529.8" y="308.5" font-family="Liberation Sans" font-size="9.2" fill="#222" textLength="131" lengthAdjust="spacingAndGlyphs">Threshold: 0.75, Power law: -2.32</text>
<line x1="507" y1="316.5" x2="524" y2="316.5" stroke="#e07ad8" stroke-width="1.5"/>
<text x="529.8" y="320.4" font-family="Liberation Sans" font-size="9.2" fill="#222" textLength="126" lengthAdjust="spacingAndGlyphs">Threshold: 0.9, Power law: -2.09</text>
<text x="506.3" y="593.5" font-family="Liberation Sans" font-size="13.3" fill="#222">1/L</text>
<text transform="translate(333.8,412) rotate(-90)" text-anchor="middle" font-family="Liberation Sans" font-size="12.5" fill="#222" textLength="33.5" lengthAdjust="spacingAndGlyphs"><tspan font-family="Liberation Serif" font-style="italic">R</tspan>(A)<tspan dy="-5" font-size="8.5">2</tspan></text>
<text x="296.5" y="269" font-family="Liberation Sans" font-size="17.5" fill="#111">(c)</text>
<rect x="1.5" y="1.5" width="682" height="605" fill="none" stroke="#73756f" stroke-width="1"/>
<line x1="287.5" y1="1.5" x2="287.5" y2="606.5" stroke="#6f716b" stroke-width="1"/>
<line x1="287.5" y1="245.5" x2="683.5" y2="245.5" stroke="#6f716b" stroke-width="1"/>
</g>
</svg>
</body></html>
